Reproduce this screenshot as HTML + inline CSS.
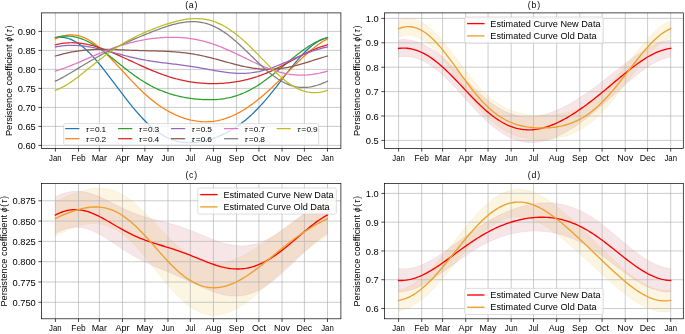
<!DOCTYPE html>
<html><head><meta charset="utf-8"><style>
html,body{margin:0;padding:0;background:#fff;}
body{width:685px;height:334px;overflow:hidden;}
svg{display:block;will-change:transform;}
text{font-family:"Liberation Sans", sans-serif;}
</style></head><body>
<svg width="685" height="334" viewBox="0 0 685 334" font-family='"Liberation Sans", sans-serif'>
<rect width="685" height="334" fill="#fff"/>
<defs>
<clipPath id="clip_a"><rect x="41.6" y="12.9" width="299.29999999999995" height="135.5"/></clipPath>
<clipPath id="clip_b"><rect x="384.5" y="12.9" width="298.79999999999995" height="135.5"/></clipPath>
<clipPath id="clip_c"><rect x="41.6" y="183.5" width="299.29999999999995" height="135.3"/></clipPath>
<clipPath id="clip_d"><rect x="384.5" y="183.5" width="298.79999999999995" height="135.3"/></clipPath>
</defs>
<path d="M55.40 12.90V148.40M78.51 12.90V148.40M99.38 12.90V148.40M122.49 12.90V148.40M144.86 12.90V148.40M167.97 12.90V148.40M190.33 12.90V148.40M213.44 12.90V148.40M236.55 12.90V148.40M258.92 12.90V148.40M282.03 12.90V148.40M304.39 12.90V148.40M327.50 12.90V148.40M41.60 145.40H340.90M41.60 126.40H340.90M41.60 107.40H340.90M41.60 88.40H340.90M41.60 69.40H340.90M41.60 50.40H340.90M41.60 31.40H340.90" stroke="#b0b0b0" stroke-width="0.65" fill="none"/>
<path d="M55.40 37.79L57.11 37.50L58.82 37.32L60.53 37.26L62.25 37.32L63.96 37.50L65.67 37.79L67.38 38.21L69.09 38.74L70.80 39.38L72.51 40.14L74.22 41.00L75.94 41.97L77.65 43.05L79.36 44.22L81.07 45.49L82.78 46.85L84.49 48.30L86.20 49.84L87.92 51.46L89.63 53.15L91.34 54.92L93.05 56.75L94.76 58.65L96.47 60.60L98.18 62.61L99.89 64.67L101.61 66.77L103.32 68.91L105.03 71.09L106.74 73.29L108.45 75.52L110.16 77.77L111.87 80.04L113.58 82.31L115.30 84.59L117.01 86.88L118.72 89.16L120.43 91.43L122.14 93.69L123.85 95.93L125.56 98.16L127.28 100.36L128.99 102.53L130.70 104.67L132.41 106.77L134.12 108.84L135.83 110.86L137.54 112.84L139.25 114.77L140.97 116.64L142.68 118.47L144.39 120.23L146.10 121.94L147.81 123.58L149.52 125.17L151.23 126.68L152.95 128.13L154.66 129.52L156.37 130.83L158.08 132.07L159.79 133.25L161.50 134.35L163.21 135.38L164.92 136.34L166.64 137.23L168.35 138.04L170.06 138.79L171.77 139.47L173.48 140.08L175.19 140.62L176.90 141.09L178.62 141.50L180.33 141.85L182.04 142.14L183.75 142.36L185.46 142.52L187.17 142.63L188.88 142.68L190.59 142.68L192.31 142.63L194.02 142.53L195.73 142.37L197.44 142.18L199.15 141.93L200.86 141.65L202.57 141.32L204.28 140.95L206.00 140.53L207.71 140.08L209.42 139.59L211.13 139.07L212.84 138.50L214.55 137.90L216.26 137.26L217.98 136.59L219.69 135.87L221.40 135.12L223.11 134.33L224.82 133.50L226.53 132.64L228.24 131.73L229.95 130.78L231.67 129.78L233.38 128.74L235.09 127.66L236.80 126.53L238.51 125.35L240.22 124.13L241.93 122.85L243.65 121.53L245.36 120.15L247.07 118.72L248.78 117.24L250.49 115.71L252.20 114.12L253.91 112.48L255.62 110.79L257.34 109.05L259.05 107.26L260.76 105.42L262.47 103.53L264.18 101.59L265.89 99.62L267.60 97.60L269.32 95.54L271.03 93.45L272.74 91.33L274.45 89.19L276.16 87.02L277.87 84.83L279.58 82.62L281.29 80.41L283.01 78.20L284.72 75.99L286.43 73.78L288.14 71.59L289.85 69.42L291.56 67.27L293.27 65.16L294.98 63.08L296.70 61.05L298.41 59.06L300.12 57.13L301.83 55.26L303.54 53.45L305.25 51.72L306.96 50.07L308.68 48.49L310.39 47.01L312.10 45.62L313.81 44.32L315.52 43.12L317.23 42.03L318.94 41.04L320.65 40.16L322.37 39.40L324.08 38.74L325.79 38.21L327.50 37.79" stroke="#1f77b4" stroke-width="1.25" fill="none" stroke-linejoin="round" stroke-linecap="square" clip-path="url(#clip_a)"/>
<path d="M55.40 38.94L57.11 38.14L58.82 37.42L60.53 36.78L62.25 36.24L63.96 35.78L65.67 35.41L67.38 35.14L69.09 34.97L70.80 34.89L72.51 34.90L74.22 35.02L75.94 35.24L77.65 35.55L79.36 35.97L81.07 36.48L82.78 37.08L84.49 37.78L86.20 38.58L87.92 39.46L89.63 40.44L91.34 41.50L93.05 42.64L94.76 43.86L96.47 45.16L98.18 46.53L99.89 47.96L101.61 49.46L103.32 51.01L105.03 52.62L106.74 54.28L108.45 55.98L110.16 57.72L111.87 59.49L113.58 61.29L115.30 63.12L117.01 64.96L118.72 66.82L120.43 68.68L122.14 70.55L123.85 72.43L125.56 74.29L127.28 76.15L128.99 77.99L130.70 79.82L132.41 81.63L134.12 83.41L135.83 85.17L137.54 86.90L139.25 88.60L140.97 90.26L142.68 91.89L144.39 93.48L146.10 95.03L147.81 96.54L149.52 98.01L151.23 99.43L152.95 100.81L154.66 102.15L156.37 103.44L158.08 104.69L159.79 105.89L161.50 107.05L163.21 108.16L164.92 109.23L166.64 110.25L168.35 111.23L170.06 112.17L171.77 113.05L173.48 113.90L175.19 114.70L176.90 115.46L178.62 116.18L180.33 116.85L182.04 117.48L183.75 118.07L185.46 118.62L187.17 119.12L188.88 119.58L190.59 120.00L192.31 120.37L194.02 120.70L195.73 120.99L197.44 121.23L199.15 121.43L200.86 121.58L202.57 121.69L204.28 121.75L206.00 121.76L207.71 121.73L209.42 121.65L211.13 121.53L212.84 121.35L214.55 121.13L216.26 120.86L217.98 120.54L219.69 120.17L221.40 119.75L223.11 119.28L224.82 118.77L226.53 118.20L228.24 117.59L229.95 116.92L231.67 116.21L233.38 115.45L235.09 114.65L236.80 113.79L238.51 112.90L240.22 111.95L241.93 110.96L243.65 109.93L245.36 108.85L247.07 107.74L248.78 106.58L250.49 105.38L252.20 104.14L253.91 102.87L255.62 101.56L257.34 100.22L259.05 98.84L260.76 97.43L262.47 95.99L264.18 94.52L265.89 93.02L267.60 91.49L269.32 89.94L271.03 88.37L272.74 86.78L274.45 85.16L276.16 83.53L277.87 81.88L279.58 80.22L281.29 78.55L283.01 76.86L284.72 75.17L286.43 73.47L288.14 71.77L289.85 70.07L291.56 68.38L293.27 66.68L294.98 65.00L296.70 63.32L298.41 61.66L300.12 60.02L301.83 58.39L303.54 56.79L305.25 55.22L306.96 53.68L308.68 52.17L310.39 50.70L312.10 49.27L313.81 47.89L315.52 46.56L317.23 45.28L318.94 44.06L320.65 42.90L322.37 41.80L324.08 40.77L325.79 39.82L327.50 38.94" stroke="#ff7f0e" stroke-width="1.25" fill="none" stroke-linejoin="round" stroke-linecap="square" clip-path="url(#clip_a)"/>
<path d="M55.40 37.51L57.11 37.08L58.82 36.72L60.53 36.44L62.25 36.22L63.96 36.08L65.67 36.01L67.38 36.02L69.09 36.09L70.80 36.25L72.51 36.47L74.22 36.77L75.94 37.13L77.65 37.57L79.36 38.08L81.07 38.65L82.78 39.29L84.49 40.00L86.20 40.77L87.92 41.59L89.63 42.48L91.34 43.41L93.05 44.41L94.76 45.45L96.47 46.53L98.18 47.66L99.89 48.83L101.61 50.04L103.32 51.27L105.03 52.54L106.74 53.83L108.45 55.15L110.16 56.49L111.87 57.83L113.58 59.20L115.30 60.56L117.01 61.94L118.72 63.31L120.43 64.68L122.14 66.05L123.85 67.41L125.56 68.76L127.28 70.09L128.99 71.40L130.70 72.69L132.41 73.97L134.12 75.21L135.83 76.43L137.54 77.63L139.25 78.79L140.97 79.92L142.68 81.02L144.39 82.08L146.10 83.11L147.81 84.11L149.52 85.06L151.23 85.99L152.95 86.87L154.66 87.72L156.37 88.54L158.08 89.32L159.79 90.06L161.50 90.77L163.21 91.45L164.92 92.09L166.64 92.70L168.35 93.28L170.06 93.83L171.77 94.35L173.48 94.84L175.19 95.30L176.90 95.74L178.62 96.15L180.33 96.54L182.04 96.90L183.75 97.24L185.46 97.56L187.17 97.85L188.88 98.13L190.59 98.38L192.31 98.61L194.02 98.82L195.73 99.01L197.44 99.18L199.15 99.33L200.86 99.46L202.57 99.56L204.28 99.64L206.00 99.70L207.71 99.73L209.42 99.74L211.13 99.73L212.84 99.68L214.55 99.61L216.26 99.51L217.98 99.38L219.69 99.22L221.40 99.02L223.11 98.79L224.82 98.53L226.53 98.22L228.24 97.89L229.95 97.51L231.67 97.09L233.38 96.63L235.09 96.13L236.80 95.59L238.51 95.00L240.22 94.37L241.93 93.70L243.65 92.99L245.36 92.23L247.07 91.42L248.78 90.57L250.49 89.68L252.20 88.75L253.91 87.77L255.62 86.75L257.34 85.70L259.05 84.60L260.76 83.46L262.47 82.30L264.18 81.09L265.89 79.86L267.60 78.59L269.32 77.30L271.03 75.98L272.74 74.63L274.45 73.27L276.16 71.89L277.87 70.50L279.58 69.09L281.29 67.67L283.01 66.25L284.72 64.82L286.43 63.40L288.14 61.97L289.85 60.56L291.56 59.15L293.27 57.76L294.98 56.38L296.70 55.03L298.41 53.69L300.12 52.39L301.83 51.11L303.54 49.87L305.25 48.66L306.96 47.49L308.68 46.37L310.39 45.28L312.10 44.25L313.81 43.27L315.52 42.34L317.23 41.46L318.94 40.65L320.65 39.89L322.37 39.20L324.08 38.57L325.79 38.00L327.50 37.51" stroke="#2ca02c" stroke-width="1.25" fill="none" stroke-linejoin="round" stroke-linecap="square" clip-path="url(#clip_a)"/>
<path d="M55.40 44.86L57.11 44.45L58.82 44.08L60.53 43.75L62.25 43.47L63.96 43.24L65.67 43.05L67.38 42.90L69.09 42.80L70.80 42.75L72.51 42.73L74.22 42.77L75.94 42.84L77.65 42.96L79.36 43.12L81.07 43.32L82.78 43.56L84.49 43.84L86.20 44.15L87.92 44.50L89.63 44.89L91.34 45.31L93.05 45.76L94.76 46.25L96.47 46.76L98.18 47.30L99.89 47.87L101.61 48.46L103.32 49.07L105.03 49.71L106.74 50.37L108.45 51.04L110.16 51.73L111.87 52.44L113.58 53.17L115.30 53.90L117.01 54.65L118.72 55.41L120.43 56.17L122.14 56.95L123.85 57.73L125.56 58.52L127.28 59.30L128.99 60.10L130.70 60.89L132.41 61.68L134.12 62.48L135.83 63.27L137.54 64.05L139.25 64.83L140.97 65.61L142.68 66.38L144.39 67.14L146.10 67.90L147.81 68.64L149.52 69.37L151.23 70.10L152.95 70.81L154.66 71.50L156.37 72.18L158.08 72.85L159.79 73.50L161.50 74.13L163.21 74.75L164.92 75.35L166.64 75.93L168.35 76.49L170.06 77.03L171.77 77.55L173.48 78.05L175.19 78.53L176.90 78.99L178.62 79.42L180.33 79.84L182.04 80.23L183.75 80.60L185.46 80.95L187.17 81.28L188.88 81.58L190.59 81.87L192.31 82.13L194.02 82.37L195.73 82.58L197.44 82.78L199.15 82.95L200.86 83.11L202.57 83.24L204.28 83.35L206.00 83.44L207.71 83.51L209.42 83.56L211.13 83.60L212.84 83.61L214.55 83.60L216.26 83.57L217.98 83.52L219.69 83.46L221.40 83.37L223.11 83.26L224.82 83.14L226.53 82.99L228.24 82.82L229.95 82.63L231.67 82.42L233.38 82.19L235.09 81.94L236.80 81.67L238.51 81.37L240.22 81.05L241.93 80.71L243.65 80.35L245.36 79.96L247.07 79.54L248.78 79.10L250.49 78.64L252.20 78.15L253.91 77.63L255.62 77.09L257.34 76.53L259.05 75.93L260.76 75.32L262.47 74.67L264.18 74.00L265.89 73.31L267.60 72.60L269.32 71.86L271.03 71.09L272.74 70.31L274.45 69.51L276.16 68.68L277.87 67.84L279.58 66.99L281.29 66.12L283.01 65.23L284.72 64.34L286.43 63.43L288.14 62.52L289.85 61.60L291.56 60.68L293.27 59.76L294.98 58.84L296.70 57.93L298.41 57.02L300.12 56.12L301.83 55.23L303.54 54.36L305.25 53.50L306.96 52.66L308.68 51.85L310.39 51.05L312.10 50.29L313.81 49.55L315.52 48.84L317.23 48.16L318.94 47.52L320.65 46.91L322.37 46.33L324.08 45.80L325.79 45.31L327.50 44.86" stroke="#d62728" stroke-width="1.25" fill="none" stroke-linejoin="round" stroke-linecap="square" clip-path="url(#clip_a)"/>
<path d="M55.40 46.97L57.11 46.66L58.82 46.37L60.53 46.13L62.25 45.91L63.96 45.73L65.67 45.59L67.38 45.48L69.09 45.40L70.80 45.36L72.51 45.35L74.22 45.38L75.94 45.43L77.65 45.52L79.36 45.64L81.07 45.79L82.78 45.96L84.49 46.17L86.20 46.40L87.92 46.65L89.63 46.93L91.34 47.24L93.05 47.56L94.76 47.91L96.47 48.27L98.18 48.65L99.89 49.04L101.61 49.45L103.32 49.87L105.03 50.30L106.74 50.74L108.45 51.19L110.16 51.64L111.87 52.10L113.58 52.56L115.30 53.02L117.01 53.49L118.72 53.95L120.43 54.40L122.14 54.86L123.85 55.30L125.56 55.74L127.28 56.18L128.99 56.60L130.70 57.02L132.41 57.42L134.12 57.82L135.83 58.20L137.54 58.57L139.25 58.93L140.97 59.28L142.68 59.61L144.39 59.93L146.10 60.24L147.81 60.54L149.52 60.83L151.23 61.10L152.95 61.37L154.66 61.62L156.37 61.87L158.08 62.10L159.79 62.33L161.50 62.56L163.21 62.77L164.92 62.99L166.64 63.20L168.35 63.40L170.06 63.61L171.77 63.82L173.48 64.02L175.19 64.23L176.90 64.44L178.62 64.66L180.33 64.88L182.04 65.11L183.75 65.34L185.46 65.57L187.17 65.82L188.88 66.07L190.59 66.33L192.31 66.60L194.02 66.87L195.73 67.15L197.44 67.44L199.15 67.74L200.86 68.04L202.57 68.34L204.28 68.65L206.00 68.96L207.71 69.28L209.42 69.59L211.13 69.91L212.84 70.22L214.55 70.53L216.26 70.83L217.98 71.12L219.69 71.41L221.40 71.68L223.11 71.94L224.82 72.19L226.53 72.42L228.24 72.62L229.95 72.81L231.67 72.98L233.38 73.12L235.09 73.24L236.80 73.33L238.51 73.39L240.22 73.42L241.93 73.42L243.65 73.38L245.36 73.31L247.07 73.21L248.78 73.07L250.49 72.90L252.20 72.69L253.91 72.44L255.62 72.16L257.34 71.84L259.05 71.49L260.76 71.10L262.47 70.68L264.18 70.22L265.89 69.74L267.60 69.22L269.32 68.67L271.03 68.09L272.74 67.49L274.45 66.86L276.16 66.21L277.87 65.54L279.58 64.85L281.29 64.14L283.01 63.42L284.72 62.69L286.43 61.95L288.14 61.20L289.85 60.45L291.56 59.69L293.27 58.93L294.98 58.18L296.70 57.43L298.41 56.68L300.12 55.95L301.83 55.23L303.54 54.52L305.25 53.82L306.96 53.15L308.68 52.49L310.39 51.85L312.10 51.24L313.81 50.65L315.52 50.09L317.23 49.55L318.94 49.05L320.65 48.57L322.37 48.12L324.08 47.71L325.79 47.32L327.50 46.97" stroke="#9467bd" stroke-width="1.25" fill="none" stroke-linejoin="round" stroke-linecap="square" clip-path="url(#clip_a)"/>
<path d="M55.40 56.00L57.11 55.51L58.82 55.04L60.53 54.58L62.25 54.14L63.96 53.71L65.67 53.31L67.38 52.92L69.09 52.55L70.80 52.20L72.51 51.88L74.22 51.57L75.94 51.28L77.65 51.02L79.36 50.78L81.07 50.56L82.78 50.35L84.49 50.17L86.20 50.02L87.92 49.88L89.63 49.76L91.34 49.65L93.05 49.57L94.76 49.50L96.47 49.45L98.18 49.41L99.89 49.39L101.61 49.38L103.32 49.39L105.03 49.40L106.74 49.42L108.45 49.46L110.16 49.50L111.87 49.54L113.58 49.60L115.30 49.65L117.01 49.72L118.72 49.78L120.43 49.85L122.14 49.91L123.85 49.98L125.56 50.05L127.28 50.12L128.99 50.18L130.70 50.25L132.41 50.31L134.12 50.37L135.83 50.43L137.54 50.48L139.25 50.53L140.97 50.58L142.68 50.63L144.39 50.68L146.10 50.72L147.81 50.77L149.52 50.81L151.23 50.85L152.95 50.90L154.66 50.94L156.37 50.99L158.08 51.04L159.79 51.09L161.50 51.15L163.21 51.21L164.92 51.28L166.64 51.36L168.35 51.45L170.06 51.54L171.77 51.64L173.48 51.76L175.19 51.89L176.90 52.02L178.62 52.17L180.33 52.34L182.04 52.52L183.75 52.71L185.46 52.92L187.17 53.14L188.88 53.38L190.59 53.64L192.31 53.91L194.02 54.19L195.73 54.50L197.44 54.82L199.15 55.15L200.86 55.50L202.57 55.86L204.28 56.24L206.00 56.63L207.71 57.04L209.42 57.46L211.13 57.88L212.84 58.32L214.55 58.77L216.26 59.22L217.98 59.69L219.69 60.15L221.40 60.62L223.11 61.10L224.82 61.57L226.53 62.04L228.24 62.51L229.95 62.98L231.67 63.44L233.38 63.90L235.09 64.35L236.80 64.78L238.51 65.21L240.22 65.62L241.93 66.02L243.65 66.40L245.36 66.76L247.07 67.11L248.78 67.43L250.49 67.73L252.20 68.01L253.91 68.27L255.62 68.49L257.34 68.70L259.05 68.87L260.76 69.02L262.47 69.14L264.18 69.22L265.89 69.28L267.60 69.31L269.32 69.31L271.03 69.27L272.74 69.21L274.45 69.11L276.16 68.98L277.87 68.83L279.58 68.64L281.29 68.42L283.01 68.18L284.72 67.90L286.43 67.60L288.14 67.28L289.85 66.93L291.56 66.55L293.27 66.16L294.98 65.74L296.70 65.30L298.41 64.84L300.12 64.37L301.83 63.88L303.54 63.38L305.25 62.87L306.96 62.35L308.68 61.82L310.39 61.29L312.10 60.75L313.81 60.20L315.52 59.66L317.23 59.12L318.94 58.58L320.65 58.05L322.37 57.52L324.08 57.00L325.79 56.49L327.50 56.00" stroke="#8c564b" stroke-width="1.25" fill="none" stroke-linejoin="round" stroke-linecap="square" clip-path="url(#clip_a)"/>
<path d="M55.40 71.07L57.11 70.55L58.82 70.01L60.53 69.44L62.25 68.86L63.96 68.25L65.67 67.62L67.38 66.97L69.09 66.31L70.80 65.63L72.51 64.94L74.22 64.23L75.94 63.52L77.65 62.80L79.36 62.07L81.07 61.33L82.78 60.59L84.49 59.85L86.20 59.10L87.92 58.36L89.63 57.61L91.34 56.87L93.05 56.13L94.76 55.40L96.47 54.67L98.18 53.95L99.89 53.24L101.61 52.54L103.32 51.85L105.03 51.17L106.74 50.50L108.45 49.85L110.16 49.20L111.87 48.58L113.58 47.96L115.30 47.37L117.01 46.78L118.72 46.22L120.43 45.67L122.14 45.13L123.85 44.61L125.56 44.11L127.28 43.63L128.99 43.17L130.70 42.72L132.41 42.29L134.12 41.87L135.83 41.48L137.54 41.10L139.25 40.74L140.97 40.39L142.68 40.07L144.39 39.76L146.10 39.47L147.81 39.19L149.52 38.94L151.23 38.70L152.95 38.48L154.66 38.27L156.37 38.09L158.08 37.92L159.79 37.77L161.50 37.64L163.21 37.53L164.92 37.43L166.64 37.36L168.35 37.31L170.06 37.27L171.77 37.26L173.48 37.26L175.19 37.29L176.90 37.34L178.62 37.41L180.33 37.51L182.04 37.63L183.75 37.77L185.46 37.93L187.17 38.12L188.88 38.33L190.59 38.57L192.31 38.83L194.02 39.12L195.73 39.44L197.44 39.78L199.15 40.14L200.86 40.53L202.57 40.95L204.28 41.40L206.00 41.86L207.71 42.36L209.42 42.88L211.13 43.42L212.84 43.99L214.55 44.59L216.26 45.20L217.98 45.84L219.69 46.50L221.40 47.18L223.11 47.88L224.82 48.60L226.53 49.33L228.24 50.08L229.95 50.85L231.67 51.63L233.38 52.42L235.09 53.22L236.80 54.03L238.51 54.85L240.22 55.67L241.93 56.50L243.65 57.33L245.36 58.15L247.07 58.98L248.78 59.81L250.49 60.62L252.20 61.44L253.91 62.24L255.62 63.03L257.34 63.81L259.05 64.58L260.76 65.33L262.47 66.06L264.18 66.78L265.89 67.47L267.60 68.15L269.32 68.79L271.03 69.42L272.74 70.01L274.45 70.58L276.16 71.12L277.87 71.63L279.58 72.11L281.29 72.55L283.01 72.97L284.72 73.35L286.43 73.69L288.14 74.00L289.85 74.27L291.56 74.51L293.27 74.70L294.98 74.87L296.70 74.99L298.41 75.08L300.12 75.13L301.83 75.14L303.54 75.11L305.25 75.05L306.96 74.95L308.68 74.81L310.39 74.63L312.10 74.43L313.81 74.18L315.52 73.90L317.23 73.59L318.94 73.25L320.65 72.87L322.37 72.47L324.08 72.03L325.79 71.56L327.50 71.07" stroke="#e377c2" stroke-width="1.25" fill="none" stroke-linejoin="round" stroke-linecap="square" clip-path="url(#clip_a)"/>
<path d="M55.40 81.16L57.11 80.34L58.82 79.48L60.53 78.59L62.25 77.67L63.96 76.73L65.67 75.76L67.38 74.78L69.09 73.78L70.80 72.77L72.51 71.75L74.22 70.72L75.94 69.68L77.65 68.64L79.36 67.60L81.07 66.56L82.78 65.53L84.49 64.49L86.20 63.47L87.92 62.45L89.63 61.43L91.34 60.43L93.05 59.44L94.76 58.46L96.47 57.49L98.18 56.53L99.89 55.59L101.61 54.66L103.32 53.74L105.03 52.84L106.74 51.94L108.45 51.07L110.16 50.20L111.87 49.35L113.58 48.51L115.30 47.68L117.01 46.86L118.72 46.05L120.43 45.25L122.14 44.47L123.85 43.69L125.56 42.92L127.28 42.15L128.99 41.40L130.70 40.65L132.41 39.91L134.12 39.17L135.83 38.44L137.54 37.72L139.25 37.00L140.97 36.28L142.68 35.58L144.39 34.87L146.10 34.18L147.81 33.49L149.52 32.80L151.23 32.12L152.95 31.45L154.66 30.79L156.37 30.14L158.08 29.50L159.79 28.87L161.50 28.26L163.21 27.66L164.92 27.08L166.64 26.51L168.35 25.97L170.06 25.45L171.77 24.95L173.48 24.47L175.19 24.03L176.90 23.62L178.62 23.23L180.33 22.89L182.04 22.58L183.75 22.31L185.46 22.09L187.17 21.90L188.88 21.77L190.59 21.68L192.31 21.65L194.02 21.67L195.73 21.74L197.44 21.87L199.15 22.06L200.86 22.32L202.57 22.63L204.28 23.01L206.00 23.45L207.71 23.95L209.42 24.52L211.13 25.16L212.84 25.87L214.55 26.64L216.26 27.48L217.98 28.38L219.69 29.34L221.40 30.37L223.11 31.46L224.82 32.62L226.53 33.83L228.24 35.09L229.95 36.41L231.67 37.78L233.38 39.19L235.09 40.65L236.80 42.15L238.51 43.69L240.22 45.26L241.93 46.86L243.65 48.48L245.36 50.13L247.07 51.79L248.78 53.46L250.49 55.13L252.20 56.81L253.91 58.49L255.62 60.15L257.34 61.81L259.05 63.44L260.76 65.05L262.47 66.64L264.18 68.19L265.89 69.71L267.60 71.18L269.32 72.61L271.03 74.00L272.74 75.33L274.45 76.60L276.16 77.81L277.87 78.96L279.58 80.05L281.29 81.07L283.01 82.01L284.72 82.89L286.43 83.69L288.14 84.41L289.85 85.06L291.56 85.63L293.27 86.13L294.98 86.54L296.70 86.88L298.41 87.14L300.12 87.32L301.83 87.43L303.54 87.46L305.25 87.42L306.96 87.30L308.68 87.12L310.39 86.87L312.10 86.55L313.81 86.17L315.52 85.73L317.23 85.23L318.94 84.67L320.65 84.06L322.37 83.40L324.08 82.70L325.79 81.95L327.50 81.16" stroke="#7f7f7f" stroke-width="1.25" fill="none" stroke-linejoin="round" stroke-linecap="square" clip-path="url(#clip_a)"/>
<path d="M55.40 90.31L57.11 89.65L58.82 88.92L60.53 88.13L62.25 87.27L63.96 86.35L65.67 85.37L67.38 84.33L69.09 83.25L70.80 82.11L72.51 80.94L74.22 79.73L75.94 78.48L77.65 77.20L79.36 75.90L81.07 74.57L82.78 73.22L84.49 71.86L86.20 70.49L87.92 69.11L89.63 67.73L91.34 66.35L93.05 64.96L94.76 63.59L96.47 62.22L98.18 60.87L99.89 59.53L101.61 58.20L103.32 56.89L105.03 55.61L106.74 54.34L108.45 53.10L110.16 51.88L111.87 50.68L113.58 49.51L115.30 48.37L117.01 47.25L118.72 46.16L120.43 45.10L122.14 44.06L123.85 43.05L125.56 42.06L127.28 41.10L128.99 40.16L130.70 39.25L132.41 38.35L134.12 37.48L135.83 36.63L137.54 35.80L139.25 34.99L140.97 34.20L142.68 33.42L144.39 32.66L146.10 31.92L147.81 31.19L149.52 30.48L151.23 29.78L152.95 29.09L154.66 28.42L156.37 27.77L158.08 27.12L159.79 26.49L161.50 25.88L163.21 25.28L164.92 24.70L166.64 24.13L168.35 23.59L170.06 23.06L171.77 22.55L173.48 22.07L175.19 21.60L176.90 21.17L178.62 20.76L180.33 20.38L182.04 20.03L183.75 19.71L185.46 19.42L187.17 19.18L188.88 18.97L190.59 18.80L192.31 18.68L194.02 18.59L195.73 18.56L197.44 18.58L199.15 18.64L200.86 18.76L202.57 18.93L204.28 19.15L206.00 19.43L207.71 19.77L209.42 20.17L211.13 20.63L212.84 21.15L214.55 21.73L216.26 22.37L217.98 23.08L219.69 23.84L221.40 24.67L223.11 25.56L224.82 26.51L226.53 27.52L228.24 28.59L229.95 29.72L231.67 30.90L233.38 32.14L235.09 33.43L236.80 34.78L238.51 36.17L240.22 37.61L241.93 39.09L243.65 40.62L245.36 42.18L247.07 43.78L248.78 45.41L250.49 47.07L252.20 48.75L253.91 50.46L255.62 52.18L257.34 53.92L259.05 55.67L260.76 57.42L262.47 59.18L264.18 60.93L265.89 62.67L267.60 64.41L269.32 66.12L271.03 67.82L272.74 69.49L274.45 71.14L276.16 72.75L277.87 74.32L279.58 75.86L281.29 77.35L283.01 78.78L284.72 80.17L286.43 81.50L288.14 82.77L289.85 83.97L291.56 85.11L293.27 86.17L294.98 87.17L296.70 88.09L298.41 88.93L300.12 89.69L301.83 90.37L303.54 90.96L305.25 91.48L306.96 91.90L308.68 92.24L310.39 92.49L312.10 92.65L313.81 92.73L315.52 92.72L317.23 92.62L318.94 92.44L320.65 92.18L322.37 91.83L324.08 91.40L325.79 90.89L327.50 90.31" stroke="#bcbd22" stroke-width="1.25" fill="none" stroke-linejoin="round" stroke-linecap="square" clip-path="url(#clip_a)"/>
<rect x="63.70" y="123.60" width="255.00" height="21.40" rx="1.6" ry="1.6" fill="#fff" fill-opacity="0.8" stroke="#cccccc" stroke-width="0.65"/>
<path d="M65.20 128.60h14.2" stroke="#1f77b4" stroke-width="1.25"/>
<text transform="scale(1.1500 1)" y="131.60" font-size="7.26" ><tspan x="74.61" font-style="italic">τ</tspan><tspan x="78.14">=</tspan><tspan x="82.63">0</tspan><tspan x="86.48">.</tspan><tspan x="88.31">1</tspan></text>
<path d="M65.20 138.70h14.2" stroke="#ff7f0e" stroke-width="1.25"/>
<text transform="scale(1.1500 1)" y="141.70" font-size="7.26" ><tspan x="74.61" font-style="italic">τ</tspan><tspan x="78.14">=</tspan><tspan x="82.63">0</tspan><tspan x="86.48">.</tspan><tspan x="88.31">2</tspan></text>
<path d="M118.10 128.60h14.2" stroke="#2ca02c" stroke-width="1.25"/>
<text transform="scale(1.1500 1)" y="131.60" font-size="7.26" ><tspan x="120.61" font-style="italic">τ</tspan><tspan x="124.14">=</tspan><tspan x="128.63">0</tspan><tspan x="132.48">.</tspan><tspan x="134.31">3</tspan></text>
<path d="M118.10 138.70h14.2" stroke="#d62728" stroke-width="1.25"/>
<text transform="scale(1.1500 1)" y="141.70" font-size="7.26" ><tspan x="120.61" font-style="italic">τ</tspan><tspan x="124.14">=</tspan><tspan x="128.63">0</tspan><tspan x="132.48">.</tspan><tspan x="134.31">4</tspan></text>
<path d="M171.00 128.60h14.2" stroke="#9467bd" stroke-width="1.25"/>
<text transform="scale(1.1500 1)" y="131.60" font-size="7.26" ><tspan x="166.61" font-style="italic">τ</tspan><tspan x="170.14">=</tspan><tspan x="174.63">0</tspan><tspan x="178.48">.</tspan><tspan x="180.31">5</tspan></text>
<path d="M171.00 138.70h14.2" stroke="#8c564b" stroke-width="1.25"/>
<text transform="scale(1.1500 1)" y="141.70" font-size="7.26" ><tspan x="166.61" font-style="italic">τ</tspan><tspan x="170.14">=</tspan><tspan x="174.63">0</tspan><tspan x="178.48">.</tspan><tspan x="180.31">6</tspan></text>
<path d="M224.00 128.60h14.2" stroke="#e377c2" stroke-width="1.25"/>
<text transform="scale(1.1500 1)" y="131.60" font-size="7.26" ><tspan x="212.70" font-style="italic">τ</tspan><tspan x="216.22">=</tspan><tspan x="220.71">0</tspan><tspan x="224.57">.</tspan><tspan x="226.40">7</tspan></text>
<path d="M224.00 138.70h14.2" stroke="#7f7f7f" stroke-width="1.25"/>
<text transform="scale(1.1500 1)" y="141.70" font-size="7.26" ><tspan x="212.70" font-style="italic">τ</tspan><tspan x="216.22">=</tspan><tspan x="220.71">0</tspan><tspan x="224.57">.</tspan><tspan x="226.40">8</tspan></text>
<path d="M276.60 128.60h14.2" stroke="#bcbd22" stroke-width="1.25"/>
<text transform="scale(1.1500 1)" y="131.60" font-size="7.26" ><tspan x="258.44" font-style="italic">τ</tspan><tspan x="261.96">=</tspan><tspan x="266.45">0</tspan><tspan x="270.30">.</tspan><tspan x="272.14">9</tspan></text>
<path d="M55.40 148.40v3.2M78.51 148.40v3.2M99.38 148.40v3.2M122.49 148.40v3.2M144.86 148.40v3.2M167.97 148.40v3.2M190.33 148.40v3.2M213.44 148.40v3.2M236.55 148.40v3.2M258.92 148.40v3.2M282.03 148.40v3.2M304.39 148.40v3.2M327.50 148.40v3.2M41.60 145.40h-3.2M41.60 126.40h-3.2M41.60 107.40h-3.2M41.60 88.40h-3.2M41.60 69.40h-3.2M41.60 50.40h-3.2M41.60 31.40h-3.2" stroke="#000" stroke-width="0.7" fill="none"/>
<rect x="41.60" y="12.90" width="299.30" height="135.50" fill="none" stroke="#000" stroke-width="0.7" stroke-linejoin="miter" stroke-linecap="square"/>
<text x="55.40" y="161.00" font-size="8.31" text-anchor="middle" textLength="12.56" lengthAdjust="spacingAndGlyphs" fill="#000" >Jan</text>
<text x="78.51" y="161.00" font-size="8.31" text-anchor="middle" textLength="14.43" lengthAdjust="spacingAndGlyphs" fill="#000" >Feb</text>
<text x="99.38" y="161.00" font-size="8.31" text-anchor="middle" textLength="15.38" lengthAdjust="spacingAndGlyphs" fill="#000" >Mar</text>
<text x="122.49" y="161.00" font-size="8.31" text-anchor="middle" textLength="14.10" lengthAdjust="spacingAndGlyphs" fill="#000" >Apr</text>
<text x="144.86" y="161.00" font-size="8.31" text-anchor="middle" textLength="16.85" lengthAdjust="spacingAndGlyphs" fill="#000" >May</text>
<text x="167.97" y="161.00" font-size="8.31" text-anchor="middle" textLength="12.73" lengthAdjust="spacingAndGlyphs" fill="#000" >Jun</text>
<text x="190.33" y="161.00" font-size="8.31" text-anchor="middle" textLength="9.83" lengthAdjust="spacingAndGlyphs" fill="#000" >Jul</text>
<text x="213.44" y="161.00" font-size="8.31" text-anchor="middle" textLength="15.91" lengthAdjust="spacingAndGlyphs" fill="#000" >Aug</text>
<text x="236.55" y="161.00" font-size="8.31" text-anchor="middle" textLength="15.36" lengthAdjust="spacingAndGlyphs" fill="#000" >Sep</text>
<text x="258.92" y="161.00" font-size="8.31" text-anchor="middle" textLength="14.09" lengthAdjust="spacingAndGlyphs" fill="#000" >Oct</text>
<text x="282.03" y="161.00" font-size="8.31" text-anchor="middle" textLength="15.91" lengthAdjust="spacingAndGlyphs" fill="#000" >Nov</text>
<text x="304.39" y="161.00" font-size="8.31" text-anchor="middle" textLength="15.77" lengthAdjust="spacingAndGlyphs" fill="#000" >Dec</text>
<text x="327.50" y="161.00" font-size="8.31" text-anchor="middle" textLength="12.56" lengthAdjust="spacingAndGlyphs" fill="#000" >Jan</text>
<text x="35.80" y="149.07" font-size="8.31" text-anchor="end" textLength="18.15" lengthAdjust="spacingAndGlyphs" fill="#000" >0.60</text>
<text x="35.80" y="130.07" font-size="8.31" text-anchor="end" textLength="18.15" lengthAdjust="spacingAndGlyphs" fill="#000" >0.65</text>
<text x="35.80" y="111.07" font-size="8.31" text-anchor="end" textLength="18.15" lengthAdjust="spacingAndGlyphs" fill="#000" >0.70</text>
<text x="35.80" y="92.07" font-size="8.31" text-anchor="end" textLength="18.15" lengthAdjust="spacingAndGlyphs" fill="#000" >0.75</text>
<text x="35.80" y="73.07" font-size="8.31" text-anchor="end" textLength="18.15" lengthAdjust="spacingAndGlyphs" fill="#000" >0.80</text>
<text x="35.80" y="54.07" font-size="8.31" text-anchor="end" textLength="18.15" lengthAdjust="spacingAndGlyphs" fill="#000" >0.85</text>
<text x="35.80" y="35.07" font-size="8.31" text-anchor="end" textLength="18.15" lengthAdjust="spacingAndGlyphs" fill="#000" >0.90</text>
<text y="7.50" font-size="8.70" ><tspan x="185.19">(</tspan><tspan x="188.83">a</tspan><tspan x="194.41">)</tspan></text>
<g transform="translate(12.30 80.65) rotate(-90)">
<text x="-55.46" y="0" font-size="8.31" textLength="91.69" lengthAdjust="spacingAndGlyphs">Persistence coefficient</text>
<text y="0.00" font-size="8.31" ><tspan x="39.19" font-style="italic">ϕ</tspan><tspan x="44.40">(</tspan><tspan x="48.27" font-style="italic">τ</tspan><tspan x="52.49">)</tspan></text>
</g>
<path d="M398.60 37.16L400.31 36.53L402.02 36.02L403.73 35.63L405.45 35.36L407.16 35.22L408.87 35.21L410.58 35.33L412.29 35.57L414.00 35.94L415.71 36.44L417.42 37.07L419.14 37.82L420.85 38.69L422.56 39.68L424.27 40.80L425.98 42.02L427.69 43.36L429.40 44.81L431.12 46.36L432.83 48.01L434.54 49.75L436.25 51.59L437.96 53.50L439.67 55.50L441.38 57.56L443.09 59.70L444.81 61.89L446.52 64.13L448.23 66.42L449.94 68.76L451.65 71.12L453.36 73.51L455.07 75.92L456.78 78.34L458.50 80.77L460.21 83.20L461.92 85.62L463.63 88.02L465.34 90.41L467.05 92.77L468.76 95.11L470.48 97.40L472.19 99.66L473.90 101.87L475.61 104.02L477.32 106.13L479.03 108.18L480.74 110.16L482.45 112.08L484.17 113.94L485.88 115.73L487.59 117.45L489.30 119.09L491.01 120.67L492.72 122.17L494.43 123.59L496.15 124.95L497.86 126.23L499.57 127.44L501.28 128.58L502.99 129.65L504.70 130.65L506.41 131.58L508.12 132.45L509.84 133.26L511.55 134.01L513.26 134.69L514.97 135.32L516.68 135.90L518.39 136.43L520.10 136.90L521.82 137.33L523.53 137.72L525.24 138.06L526.95 138.36L528.66 138.62L530.37 138.85L532.08 139.04L533.79 139.19L535.51 139.31L537.22 139.40L538.93 139.46L540.64 139.49L542.35 139.48L544.06 139.45L545.77 139.38L547.48 139.29L549.20 139.16L550.91 139.00L552.62 138.80L554.33 138.57L556.04 138.31L557.75 138.00L559.46 137.66L561.18 137.28L562.89 136.86L564.60 136.39L566.31 135.88L568.02 135.32L569.73 134.71L571.44 134.05L573.15 133.34L574.87 132.57L576.58 131.75L578.29 130.87L580.00 129.93L581.71 128.93L583.42 127.87L585.13 126.75L586.85 125.57L588.56 124.32L590.27 123.01L591.98 121.64L593.69 120.20L595.40 118.70L597.11 117.14L598.82 115.51L600.54 113.83L602.25 112.09L603.96 110.29L605.67 108.44L607.38 106.54L609.09 104.58L610.80 102.58L612.52 100.53L614.23 98.45L615.94 96.32L617.65 94.17L619.36 91.98L621.07 89.77L622.78 87.53L624.49 85.28L626.21 83.02L627.92 80.75L629.63 78.48L631.34 76.21L633.05 73.95L634.76 71.70L636.47 69.48L638.18 67.27L639.90 65.10L641.61 62.96L643.32 60.86L645.03 58.81L646.74 56.82L648.45 54.88L650.16 53.00L651.88 51.19L653.59 49.45L655.30 47.80L657.01 46.22L658.72 44.74L660.43 43.34L662.14 42.05L663.85 40.85L665.57 39.76L667.28 38.78L668.99 37.92L670.70 37.16L670.70 20.66L668.99 21.41L667.28 22.27L665.57 23.24L663.85 24.31L662.14 25.47L660.43 26.74L658.72 28.09L657.01 29.54L655.30 31.06L653.59 32.66L651.88 34.34L650.16 36.08L648.45 37.89L646.74 39.76L645.03 41.67L643.32 43.64L641.61 45.65L639.90 47.69L638.18 49.76L636.47 51.86L634.76 53.98L633.05 56.12L631.34 58.26L629.63 60.41L627.92 62.56L626.21 64.71L624.49 66.84L622.78 68.96L621.07 71.06L619.36 73.14L617.65 75.19L615.94 77.20L614.23 79.18L612.52 81.13L610.80 83.03L609.09 84.88L607.38 86.69L605.67 88.45L603.96 90.15L602.25 91.80L600.54 93.40L598.82 94.93L597.11 96.41L595.40 97.82L593.69 99.18L591.98 100.47L590.27 101.70L588.56 102.87L586.85 103.98L585.13 105.02L583.42 106.01L581.71 106.94L580.00 107.81L578.29 108.62L576.58 109.38L574.87 110.08L573.15 110.73L571.44 111.33L569.73 111.88L568.02 112.38L566.31 112.84L564.60 113.25L562.89 113.63L561.18 113.96L559.46 114.26L557.75 114.53L556.04 114.75L554.33 114.95L552.62 115.12L550.91 115.26L549.20 115.37L547.48 115.45L545.77 115.51L544.06 115.54L542.35 115.54L540.64 115.52L538.93 115.48L537.22 115.41L535.51 115.31L533.79 115.19L532.08 115.04L530.37 114.87L528.66 114.66L526.95 114.42L525.24 114.15L523.53 113.84L521.82 113.50L520.10 113.11L518.39 112.69L516.68 112.22L514.97 111.70L513.26 111.14L511.55 110.53L509.84 109.86L508.12 109.13L506.41 108.35L504.70 107.51L502.99 106.61L501.28 105.64L499.57 104.61L497.86 103.50L496.15 102.34L494.43 101.10L492.72 99.79L491.01 98.41L489.30 96.97L487.59 95.45L485.88 93.87L484.17 92.21L482.45 90.49L480.74 88.71L479.03 86.87L477.32 84.96L475.61 83.00L473.90 80.99L472.19 78.93L470.48 76.82L468.76 74.67L467.05 72.49L465.34 70.27L463.63 68.03L461.92 65.77L460.21 63.50L458.50 61.22L456.78 58.94L455.07 56.66L453.36 54.39L451.65 52.14L449.94 49.91L448.23 47.72L446.52 45.56L444.81 43.45L443.09 41.38L441.38 39.38L439.67 37.43L437.96 35.56L436.25 33.76L434.54 32.03L432.83 30.40L431.12 28.85L429.40 27.40L427.69 26.05L425.98 24.80L424.27 23.66L422.56 22.63L420.85 21.71L419.14 20.90L417.42 20.22L415.71 19.65L414.00 19.21L412.29 18.89L410.58 18.69L408.87 18.61L407.16 18.65L405.45 18.82L403.73 19.10L402.02 19.51L400.31 20.03L398.60 20.66Z" fill="#e1b928" fill-opacity="0.14" stroke="#e1b928" stroke-opacity="0.14" stroke-width="0.65" clip-path="url(#clip_b)"/>
<path d="M398.60 57.01L400.31 56.76L402.02 56.58L403.73 56.49L405.45 56.47L407.16 56.53L408.87 56.67L410.58 56.89L412.29 57.19L414.00 57.57L415.71 58.03L417.42 58.57L419.14 59.19L420.85 59.89L422.56 60.67L424.27 61.53L425.98 62.45L427.69 63.46L429.40 64.53L431.12 65.68L432.83 66.89L434.54 68.16L436.25 69.50L437.96 70.90L439.67 72.36L441.38 73.87L443.09 75.44L444.81 77.05L446.52 78.70L448.23 80.40L449.94 82.13L451.65 83.90L453.36 85.69L455.07 87.52L456.78 89.36L458.50 91.22L460.21 93.10L461.92 94.99L463.63 96.88L465.34 98.78L467.05 100.67L468.76 102.56L470.48 104.43L472.19 106.30L473.90 108.14L475.61 109.97L477.32 111.77L479.03 113.54L480.74 115.29L482.45 116.99L484.17 118.66L485.88 120.29L487.59 121.88L489.30 123.42L491.01 124.91L492.72 126.35L494.43 127.73L496.15 129.07L497.86 130.34L499.57 131.56L501.28 132.71L502.99 133.81L504.70 134.84L506.41 135.81L508.12 136.72L509.84 137.56L511.55 138.33L513.26 139.04L514.97 139.69L516.68 140.27L518.39 140.78L520.10 141.23L521.82 141.61L523.53 141.93L525.24 142.19L526.95 142.38L528.66 142.51L530.37 142.58L532.08 142.58L533.79 142.53L535.51 142.42L537.22 142.26L538.93 142.03L540.64 141.75L542.35 141.42L544.06 141.04L545.77 140.60L547.48 140.12L549.20 139.58L550.91 139.00L552.62 138.38L554.33 137.70L556.04 136.99L557.75 136.23L559.46 135.43L561.18 134.59L562.89 133.71L564.60 132.80L566.31 131.85L568.02 130.86L569.73 129.83L571.44 128.78L573.15 127.69L574.87 126.57L576.58 125.42L578.29 124.24L580.00 123.03L581.71 121.79L583.42 120.53L585.13 119.24L586.85 117.93L588.56 116.59L590.27 115.23L591.98 113.85L593.69 112.45L595.40 111.03L597.11 109.60L598.82 108.14L600.54 106.67L602.25 105.19L603.96 103.69L605.67 102.18L607.38 100.66L609.09 99.14L610.80 97.61L612.52 96.07L614.23 94.53L615.94 92.99L617.65 91.45L619.36 89.91L621.07 88.38L622.78 86.85L624.49 85.33L626.21 83.83L627.92 82.34L629.63 80.86L631.34 79.41L633.05 77.97L634.76 76.56L636.47 75.18L638.18 73.82L639.90 72.50L641.61 71.21L643.32 69.95L645.03 68.74L646.74 67.57L648.45 66.44L650.16 65.37L651.88 64.34L653.59 63.36L655.30 62.44L657.01 61.58L658.72 60.77L660.43 60.03L662.14 59.36L663.85 58.75L665.57 58.20L667.28 57.73L668.99 57.33L670.70 57.01L670.70 39.89L668.99 40.14L667.28 40.44L665.57 40.82L663.85 41.26L662.14 41.75L660.43 42.31L658.72 42.93L657.01 43.61L655.30 44.34L653.59 45.12L651.88 45.95L650.16 46.83L648.45 47.75L646.74 48.72L645.03 49.72L643.32 50.77L641.61 51.85L639.90 52.97L638.18 54.11L636.47 55.29L634.76 56.49L633.05 57.72L631.34 58.96L629.63 60.23L627.92 61.52L626.21 62.82L624.49 64.13L622.78 65.45L621.07 66.78L619.36 68.12L617.65 69.47L615.94 70.82L614.23 72.17L612.52 73.52L610.80 74.87L609.09 76.21L607.38 77.55L605.67 78.89L603.96 80.22L602.25 81.54L600.54 82.85L598.82 84.15L597.11 85.44L595.40 86.72L593.69 87.98L591.98 89.23L590.27 90.46L588.56 91.68L586.85 92.88L585.13 94.06L583.42 95.22L581.71 96.36L580.00 97.48L578.29 98.58L576.58 99.66L574.87 100.72L573.15 101.75L571.44 102.76L569.73 103.74L568.02 104.69L566.31 105.62L564.60 106.52L562.89 107.39L561.18 108.23L559.46 109.04L557.75 109.82L556.04 110.56L554.33 111.27L552.62 111.94L550.91 112.57L549.20 113.17L547.48 113.73L545.77 114.24L544.06 114.71L542.35 115.14L540.64 115.53L538.93 115.86L537.22 116.15L535.51 116.40L533.79 116.59L532.08 116.73L530.37 116.81L528.66 116.85L526.95 116.82L525.24 116.75L523.53 116.61L521.82 116.42L520.10 116.17L518.39 115.86L516.68 115.48L514.97 115.05L513.26 114.56L511.55 114.01L509.84 113.39L508.12 112.72L506.41 111.98L504.70 111.18L502.99 110.33L501.28 109.41L499.57 108.44L497.86 107.40L496.15 106.32L494.43 105.17L492.72 103.97L491.01 102.73L489.30 101.43L487.59 100.08L485.88 98.69L484.17 97.25L482.45 95.78L480.74 94.26L479.03 92.71L477.32 91.13L475.61 89.52L473.90 87.88L472.19 86.22L470.48 84.54L468.76 82.84L467.05 81.13L465.34 79.41L463.63 77.69L461.92 75.96L460.21 74.24L458.50 72.52L456.78 70.81L455.07 69.12L453.36 67.44L451.65 65.78L449.94 64.15L448.23 62.55L446.52 60.97L444.81 59.44L443.09 57.94L441.38 56.48L439.67 55.07L437.96 53.70L436.25 52.39L434.54 51.12L432.83 49.92L431.12 48.77L429.40 47.68L427.69 46.66L425.98 45.70L424.27 44.80L422.56 43.98L420.85 43.22L419.14 42.53L417.42 41.91L415.71 41.37L414.00 40.89L412.29 40.49L410.58 40.17L408.87 39.91L407.16 39.73L405.45 39.62L403.73 39.58L402.02 39.62L400.31 39.72L398.60 39.89Z" fill="#c33e4b" fill-opacity="0.13" stroke="#c33e4b" stroke-opacity="0.13" stroke-width="0.65" clip-path="url(#clip_b)"/>
<path d="M398.60 12.90V148.40M421.71 12.90V148.40M442.58 12.90V148.40M465.69 12.90V148.40M488.06 12.90V148.40M511.17 12.90V148.40M533.53 12.90V148.40M556.64 12.90V148.40M579.75 12.90V148.40M602.12 12.90V148.40M625.23 12.90V148.40M647.59 12.90V148.40M670.70 12.90V148.40M384.50 140.40H683.30M384.50 116.00H683.30M384.50 91.60H683.30M384.50 67.20H683.30M384.50 42.80H683.30M384.50 18.40H683.30" stroke="#b0b0b0" stroke-width="0.65" fill="none"/>
<path d="M398.60 48.39L400.31 48.22L402.02 48.12L403.73 48.10L405.45 48.15L407.16 48.27L408.87 48.48L410.58 48.75L412.29 49.11L414.00 49.54L415.71 50.04L417.42 50.62L419.14 51.28L420.85 52.01L422.56 52.81L424.27 53.69L425.98 54.63L427.69 55.65L429.40 56.73L431.12 57.88L432.83 59.08L434.54 60.36L436.25 61.68L437.96 63.07L439.67 64.50L441.38 65.99L443.09 67.52L444.81 69.10L446.52 70.72L448.23 72.37L449.94 74.06L451.65 75.77L453.36 77.51L455.07 79.27L456.78 81.06L458.50 82.85L460.21 84.66L461.92 86.47L463.63 88.28L465.34 90.09L467.05 91.90L468.76 93.70L470.48 95.49L472.19 97.25L473.90 99.00L475.61 100.73L477.32 102.43L479.03 104.10L480.74 105.73L482.45 107.33L484.17 108.89L485.88 110.41L487.59 111.88L489.30 113.30L491.01 114.68L492.72 116.00L494.43 117.27L496.15 118.48L497.86 119.64L499.57 120.74L501.28 121.78L502.99 122.75L504.70 123.67L506.41 124.52L508.12 125.31L509.84 126.03L511.55 126.69L513.26 127.29L514.97 127.82L516.68 128.29L518.39 128.70L520.10 129.04L521.82 129.32L523.53 129.54L525.24 129.69L526.95 129.79L528.66 129.82L530.37 129.80L532.08 129.72L533.79 129.59L535.51 129.40L537.22 129.15L538.93 128.85L540.64 128.51L542.35 128.11L544.06 127.66L545.77 127.17L547.48 126.63L549.20 126.04L550.91 125.42L552.62 124.75L554.33 124.04L556.04 123.29L557.75 122.50L559.46 121.68L561.18 120.82L562.89 119.93L564.60 119.00L566.31 118.05L568.02 117.06L569.73 116.04L571.44 114.99L573.15 113.92L574.87 112.81L576.58 111.69L578.29 110.53L580.00 109.36L581.71 108.16L583.42 106.94L585.13 105.69L586.85 104.43L588.56 103.15L590.27 101.85L591.98 100.53L593.69 99.19L595.40 97.84L597.11 96.48L598.82 95.10L600.54 93.71L602.25 92.31L603.96 90.90L605.67 89.48L607.38 88.06L609.09 86.63L610.80 85.20L612.52 83.76L614.23 82.32L615.94 80.89L617.65 79.46L619.36 78.03L621.07 76.61L622.78 75.19L624.49 73.79L626.21 72.40L627.92 71.03L629.63 69.67L631.34 68.33L633.05 67.02L634.76 65.72L636.47 64.46L638.18 63.22L639.90 62.01L641.61 60.84L643.32 59.71L645.03 58.61L646.74 57.55L648.45 56.54L650.16 55.57L651.88 54.66L653.59 53.79L655.30 52.98L657.01 52.22L658.72 51.52L660.43 50.88L662.14 50.30L663.85 49.78L665.57 49.33L667.28 48.95L668.99 48.64L670.70 48.39" stroke="#ff0000" stroke-width="1.35" fill="none" stroke-linejoin="round" stroke-linecap="square" clip-path="url(#clip_b)"/>
<path d="M398.60 28.66L400.31 28.03L402.02 27.51L403.73 27.12L405.45 26.84L407.16 26.70L408.87 26.67L410.58 26.77L412.29 27.00L414.00 27.35L415.71 27.83L417.42 28.43L419.14 29.15L420.85 30.00L422.56 30.96L424.27 32.04L425.98 33.23L427.69 34.54L429.40 35.95L431.12 37.46L432.83 39.06L434.54 40.76L436.25 42.55L437.96 44.42L439.67 46.37L441.38 48.39L443.09 50.47L444.81 52.61L446.52 54.80L448.23 57.04L449.94 59.32L451.65 61.63L453.36 63.96L455.07 66.31L456.78 68.68L458.50 71.05L460.21 73.42L461.92 75.78L463.63 78.13L465.34 80.46L467.05 82.76L468.76 85.03L470.48 87.27L472.19 89.46L473.90 91.61L475.61 93.72L477.32 95.76L479.03 97.75L480.74 99.68L482.45 101.55L484.17 103.35L485.88 105.08L487.59 106.75L489.30 108.34L491.01 109.87L492.72 111.32L494.43 112.70L496.15 114.00L497.86 115.24L499.57 116.41L501.28 117.50L502.99 118.53L504.70 119.49L506.41 120.39L508.12 121.23L509.84 122.00L511.55 122.71L513.26 123.37L514.97 123.98L516.68 124.53L518.39 125.03L520.10 125.49L521.82 125.90L523.53 126.27L525.24 126.60L526.95 126.88L528.66 127.14L530.37 127.36L532.08 127.54L533.79 127.69L535.51 127.81L537.22 127.91L538.93 127.97L540.64 128.00L542.35 128.01L544.06 127.98L545.77 127.93L547.48 127.85L549.20 127.74L550.91 127.60L552.62 127.43L554.33 127.22L556.04 126.99L557.75 126.71L559.46 126.40L561.18 126.05L562.89 125.67L564.60 125.24L566.31 124.76L568.02 124.24L569.73 123.68L571.44 123.06L573.15 122.39L574.87 121.67L576.58 120.90L578.29 120.07L580.00 119.18L581.71 118.24L583.42 117.23L585.13 116.16L586.85 115.03L588.56 113.84L590.27 112.59L591.98 111.27L593.69 109.89L595.40 108.45L597.11 106.95L598.82 105.38L600.54 103.76L602.25 102.08L603.96 100.34L605.67 98.54L607.38 96.70L609.09 94.80L610.80 92.86L612.52 90.87L614.23 88.84L615.94 86.77L617.65 84.67L619.36 82.54L621.07 80.38L622.78 78.20L624.49 76.01L626.21 73.79L627.92 71.58L629.63 69.35L631.34 67.13L633.05 64.92L634.76 62.72L636.47 60.53L638.18 58.37L639.90 56.24L641.61 54.14L643.32 52.07L645.03 50.06L646.74 48.09L648.45 46.18L650.16 44.33L651.88 42.55L653.59 40.84L655.30 39.20L657.01 37.65L658.72 36.18L660.43 34.80L662.14 33.52L663.85 32.33L665.57 31.25L667.28 30.28L668.99 29.42L670.70 28.66" stroke="#eda02a" stroke-width="1.35" fill="none" stroke-linejoin="round" stroke-linecap="square" clip-path="url(#clip_b)"/>
<rect x="464.70" y="17.00" width="138.50" height="26.10" rx="1.6" ry="1.6" fill="#fff" fill-opacity="0.8" stroke="#cccccc" stroke-width="0.65"/>
<path d="M467.10 23.60h17.4" stroke="#ff0000" stroke-width="1.35"/>
<text x="490.30" y="26.57" font-size="8.31" text-anchor="start" textLength="110.22" lengthAdjust="spacingAndGlyphs" fill="#000" >Estimated Curve New Data</text>
<path d="M467.10 35.90h17.4" stroke="#eda02a" stroke-width="1.35"/>
<text x="490.30" y="38.87" font-size="8.31" text-anchor="start" textLength="106.30" lengthAdjust="spacingAndGlyphs" fill="#000" >Estimated Curve Old Data</text>
<path d="M398.60 148.40v3.2M421.71 148.40v3.2M442.58 148.40v3.2M465.69 148.40v3.2M488.06 148.40v3.2M511.17 148.40v3.2M533.53 148.40v3.2M556.64 148.40v3.2M579.75 148.40v3.2M602.12 148.40v3.2M625.23 148.40v3.2M647.59 148.40v3.2M670.70 148.40v3.2M384.50 140.40h-3.2M384.50 116.00h-3.2M384.50 91.60h-3.2M384.50 67.20h-3.2M384.50 42.80h-3.2M384.50 18.40h-3.2" stroke="#000" stroke-width="0.7" fill="none"/>
<rect x="384.50" y="12.90" width="298.80" height="135.50" fill="none" stroke="#000" stroke-width="0.7" stroke-linejoin="miter" stroke-linecap="square"/>
<text x="398.60" y="161.00" font-size="8.31" text-anchor="middle" textLength="12.56" lengthAdjust="spacingAndGlyphs" fill="#000" >Jan</text>
<text x="421.71" y="161.00" font-size="8.31" text-anchor="middle" textLength="14.43" lengthAdjust="spacingAndGlyphs" fill="#000" >Feb</text>
<text x="442.58" y="161.00" font-size="8.31" text-anchor="middle" textLength="15.38" lengthAdjust="spacingAndGlyphs" fill="#000" >Mar</text>
<text x="465.69" y="161.00" font-size="8.31" text-anchor="middle" textLength="14.10" lengthAdjust="spacingAndGlyphs" fill="#000" >Apr</text>
<text x="488.06" y="161.00" font-size="8.31" text-anchor="middle" textLength="16.85" lengthAdjust="spacingAndGlyphs" fill="#000" >May</text>
<text x="511.17" y="161.00" font-size="8.31" text-anchor="middle" textLength="12.73" lengthAdjust="spacingAndGlyphs" fill="#000" >Jun</text>
<text x="533.53" y="161.00" font-size="8.31" text-anchor="middle" textLength="9.83" lengthAdjust="spacingAndGlyphs" fill="#000" >Jul</text>
<text x="556.64" y="161.00" font-size="8.31" text-anchor="middle" textLength="15.91" lengthAdjust="spacingAndGlyphs" fill="#000" >Aug</text>
<text x="579.75" y="161.00" font-size="8.31" text-anchor="middle" textLength="15.36" lengthAdjust="spacingAndGlyphs" fill="#000" >Sep</text>
<text x="602.12" y="161.00" font-size="8.31" text-anchor="middle" textLength="14.09" lengthAdjust="spacingAndGlyphs" fill="#000" >Oct</text>
<text x="625.23" y="161.00" font-size="8.31" text-anchor="middle" textLength="15.91" lengthAdjust="spacingAndGlyphs" fill="#000" >Nov</text>
<text x="647.59" y="161.00" font-size="8.31" text-anchor="middle" textLength="15.77" lengthAdjust="spacingAndGlyphs" fill="#000" >Dec</text>
<text x="670.70" y="161.00" font-size="8.31" text-anchor="middle" textLength="12.56" lengthAdjust="spacingAndGlyphs" fill="#000" >Jan</text>
<text x="378.70" y="144.07" font-size="8.31" text-anchor="end" textLength="12.96" lengthAdjust="spacingAndGlyphs" fill="#000" >0.5</text>
<text x="378.70" y="119.67" font-size="8.31" text-anchor="end" textLength="12.96" lengthAdjust="spacingAndGlyphs" fill="#000" >0.6</text>
<text x="378.70" y="95.27" font-size="8.31" text-anchor="end" textLength="12.96" lengthAdjust="spacingAndGlyphs" fill="#000" >0.7</text>
<text x="378.70" y="70.87" font-size="8.31" text-anchor="end" textLength="12.96" lengthAdjust="spacingAndGlyphs" fill="#000" >0.8</text>
<text x="378.70" y="46.47" font-size="8.31" text-anchor="end" textLength="12.96" lengthAdjust="spacingAndGlyphs" fill="#000" >0.9</text>
<text x="378.70" y="22.07" font-size="8.31" text-anchor="end" textLength="12.96" lengthAdjust="spacingAndGlyphs" fill="#000" >1.0</text>
<text y="7.50" font-size="8.70" ><tspan x="527.74">(</tspan><tspan x="531.48">b</tspan><tspan x="537.17">)</tspan></text>
<g transform="translate(360.20 80.65) rotate(-90)">
<text x="-55.46" y="0" font-size="8.31" textLength="91.69" lengthAdjust="spacingAndGlyphs">Persistence coefficient</text>
<text y="0.00" font-size="8.31" ><tspan x="39.19" font-style="italic">ϕ</tspan><tspan x="44.40">(</tspan><tspan x="48.27" font-style="italic">τ</tspan><tspan x="52.49">)</tspan></text>
</g>
<path d="M55.40 236.13L57.11 235.18L58.82 234.26L60.53 233.37L62.25 232.51L63.96 231.69L65.67 230.89L67.38 230.12L69.09 229.39L70.80 228.70L72.51 228.04L74.22 227.42L75.94 226.84L77.65 226.30L79.36 225.80L81.07 225.35L82.78 224.95L84.49 224.60L86.20 224.30L87.92 224.05L89.63 223.86L91.34 223.74L93.05 223.67L94.76 223.67L96.47 223.74L98.18 223.87L99.89 224.08L101.61 224.36L103.32 224.71L105.03 225.15L106.74 225.66L108.45 226.25L110.16 226.92L111.87 227.67L113.58 228.51L115.30 229.43L117.01 230.43L118.72 231.51L120.43 232.67L122.14 233.92L123.85 235.24L125.56 236.64L127.28 238.11L128.99 239.66L130.70 241.27L132.41 242.96L134.12 244.70L135.83 246.51L137.54 248.37L139.25 250.28L140.97 252.24L142.68 254.25L144.39 256.29L146.10 258.36L147.81 260.46L149.52 262.59L151.23 264.73L152.95 266.88L154.66 269.04L156.37 271.20L158.08 273.36L159.79 275.51L161.50 277.64L163.21 279.75L164.92 281.83L166.64 283.89L168.35 285.90L170.06 287.88L171.77 289.82L173.48 291.70L175.19 293.53L176.90 295.30L178.62 297.02L180.33 298.67L182.04 300.25L183.75 301.76L185.46 303.20L187.17 304.57L188.88 305.86L190.59 307.07L192.31 308.20L194.02 309.24L195.73 310.21L197.44 311.09L199.15 311.88L200.86 312.59L202.57 313.21L204.28 313.75L206.00 314.20L207.71 314.57L209.42 314.86L211.13 315.05L212.84 315.17L214.55 315.20L216.26 315.15L217.98 315.02L219.69 314.81L221.40 314.52L223.11 314.16L224.82 313.72L226.53 313.21L228.24 312.63L229.95 311.97L231.67 311.25L233.38 310.46L235.09 309.61L236.80 308.70L238.51 307.73L240.22 306.70L241.93 305.61L243.65 304.48L245.36 303.29L247.07 302.06L248.78 300.78L250.49 299.46L252.20 298.10L253.91 296.70L255.62 295.27L257.34 293.81L259.05 292.32L260.76 290.81L262.47 289.27L264.18 287.71L265.89 286.14L267.60 284.55L269.32 282.95L271.03 281.35L272.74 279.73L274.45 278.12L276.16 276.50L277.87 274.89L279.58 273.28L281.29 271.68L283.01 270.08L284.72 268.50L286.43 266.93L288.14 265.38L289.85 263.84L291.56 262.32L293.27 260.82L294.98 259.34L296.70 257.89L298.41 256.46L300.12 255.05L301.83 253.66L303.54 252.30L305.25 250.97L306.96 249.67L308.68 248.39L310.39 247.13L312.10 245.91L313.81 244.71L315.52 243.54L317.23 242.40L318.94 241.29L320.65 240.20L322.37 239.14L324.08 238.11L325.79 237.10L327.50 236.13L327.50 201.58L325.79 202.42L324.08 203.27L322.37 204.15L320.65 205.03L318.94 205.94L317.23 206.85L315.52 207.79L313.81 208.74L312.10 209.71L310.39 210.69L308.68 211.69L306.96 212.71L305.25 213.74L303.54 214.79L301.83 215.86L300.12 216.95L298.41 218.06L296.70 219.18L294.98 220.32L293.27 221.47L291.56 222.64L289.85 223.82L288.14 225.02L286.43 226.23L284.72 227.45L283.01 228.69L281.29 229.93L279.58 231.17L277.87 232.43L276.16 233.68L274.45 234.94L272.74 236.20L271.03 237.45L269.32 238.71L267.60 239.95L265.89 241.19L264.18 242.41L262.47 243.63L260.76 244.82L259.05 246.00L257.34 247.16L255.62 248.30L253.91 249.41L252.20 250.50L250.49 251.55L248.78 252.58L247.07 253.57L245.36 254.52L243.65 255.44L241.93 256.31L240.22 257.14L238.51 257.93L236.80 258.67L235.09 259.37L233.38 260.01L231.67 260.60L229.95 261.14L228.24 261.62L226.53 262.04L224.82 262.41L223.11 262.71L221.40 262.95L219.69 263.13L217.98 263.25L216.26 263.30L214.55 263.28L212.84 263.20L211.13 263.04L209.42 262.82L207.71 262.53L206.00 262.16L204.28 261.73L202.57 261.22L200.86 260.64L199.15 259.99L197.44 259.27L195.73 258.48L194.02 257.62L192.31 256.68L190.59 255.68L188.88 254.61L187.17 253.48L185.46 252.28L183.75 251.02L182.04 249.70L180.33 248.32L178.62 246.88L176.90 245.39L175.19 243.85L173.48 242.27L171.77 240.64L170.06 238.97L168.35 237.27L166.64 235.54L164.92 233.78L163.21 231.99L161.50 230.19L159.79 228.37L158.08 226.55L156.37 224.72L154.66 222.89L152.95 221.07L151.23 219.26L149.52 217.46L147.81 215.69L146.10 213.94L144.39 212.22L142.68 210.53L140.97 208.89L139.25 207.28L137.54 205.73L135.83 204.22L134.12 202.77L132.41 201.38L130.70 200.05L128.99 198.78L127.28 197.58L125.56 196.45L123.85 195.39L122.14 194.40L120.43 193.48L118.72 192.64L117.01 191.87L115.30 191.18L113.58 190.56L111.87 190.02L110.16 189.55L108.45 189.15L106.74 188.83L105.03 188.57L103.32 188.39L101.61 188.27L99.89 188.21L98.18 188.22L96.47 188.29L94.76 188.41L93.05 188.59L91.34 188.83L89.63 189.11L87.92 189.44L86.20 189.81L84.49 190.22L82.78 190.68L81.07 191.17L79.36 191.69L77.65 192.25L75.94 192.83L74.22 193.44L72.51 194.08L70.80 194.75L69.09 195.43L67.38 196.14L65.67 196.86L63.96 197.61L62.25 198.37L60.53 199.15L58.82 199.94L57.11 200.75L55.40 201.58Z" fill="#e1b928" fill-opacity="0.14" stroke="#e1b928" stroke-opacity="0.14" stroke-width="0.65" clip-path="url(#clip_c)"/>
<path d="M55.40 233.46L57.11 232.49L58.82 231.60L60.53 230.78L62.25 230.05L63.96 229.39L65.67 228.82L67.38 228.34L69.09 227.94L70.80 227.63L72.51 227.41L74.22 227.28L75.94 227.23L77.65 227.27L79.36 227.39L81.07 227.60L82.78 227.89L84.49 228.26L86.20 228.71L87.92 229.23L89.63 229.82L91.34 230.48L93.05 231.20L94.76 231.98L96.47 232.81L98.18 233.70L99.89 234.63L101.61 235.60L103.32 236.61L105.03 237.66L106.74 238.73L108.45 239.82L110.16 240.93L111.87 242.05L113.58 243.19L115.30 244.33L117.01 245.47L118.72 246.60L120.43 247.73L122.14 248.85L123.85 249.96L125.56 251.06L127.28 252.13L128.99 253.19L130.70 254.23L132.41 255.24L134.12 256.23L135.83 257.20L137.54 258.14L139.25 259.06L140.97 259.95L142.68 260.82L144.39 261.67L146.10 262.50L147.81 263.30L149.52 264.09L151.23 264.86L152.95 265.62L154.66 266.36L156.37 267.10L158.08 267.82L159.79 268.53L161.50 269.25L163.21 269.95L164.92 270.66L166.64 271.37L168.35 272.07L170.06 272.79L171.77 273.50L173.48 274.23L175.19 274.96L176.90 275.70L178.62 276.44L180.33 277.20L182.04 277.96L183.75 278.73L185.46 279.51L187.17 280.30L188.88 281.09L190.59 281.88L192.31 282.68L194.02 283.47L195.73 284.27L197.44 285.06L199.15 285.85L200.86 286.63L202.57 287.39L204.28 288.15L206.00 288.88L207.71 289.60L209.42 290.30L211.13 290.96L212.84 291.60L214.55 292.21L216.26 292.79L217.98 293.32L219.69 293.82L221.40 294.27L223.11 294.68L224.82 295.04L226.53 295.35L228.24 295.61L229.95 295.81L231.67 295.96L233.38 296.05L235.09 296.08L236.80 296.05L238.51 295.95L240.22 295.80L241.93 295.58L243.65 295.30L245.36 294.95L247.07 294.54L248.78 294.06L250.49 293.52L252.20 292.92L253.91 292.25L255.62 291.52L257.34 290.73L259.05 289.88L260.76 288.97L262.47 288.00L264.18 286.97L265.89 285.89L267.60 284.76L269.32 283.57L271.03 282.33L272.74 281.05L274.45 279.72L276.16 278.34L277.87 276.93L279.58 275.48L281.29 273.99L283.01 272.47L284.72 270.92L286.43 269.34L288.14 267.74L289.85 266.12L291.56 264.49L293.27 262.84L294.98 261.18L296.70 259.52L298.41 257.86L300.12 256.19L301.83 254.54L303.54 252.90L305.25 251.27L306.96 249.66L308.68 248.08L310.39 246.52L312.10 245.00L313.81 243.51L315.52 242.07L317.23 240.67L318.94 239.32L320.65 238.02L322.37 236.79L324.08 235.61L325.79 234.50L327.50 233.46L327.50 197.01L325.79 197.92L324.08 198.90L322.37 199.93L320.65 201.01L318.94 202.14L317.23 203.31L315.52 204.52L313.81 205.77L312.10 207.05L310.39 208.35L308.68 209.68L306.96 211.03L305.25 212.40L303.54 213.77L301.83 215.16L300.12 216.54L298.41 217.93L296.70 219.32L294.98 220.69L293.27 222.06L291.56 223.41L289.85 224.75L288.14 226.06L286.43 227.35L284.72 228.62L283.01 229.85L281.29 231.06L279.58 232.23L277.87 233.36L276.16 234.46L274.45 235.51L272.74 236.52L271.03 237.49L269.32 238.41L267.60 239.28L265.89 240.10L264.18 240.87L262.47 241.59L260.76 242.26L259.05 242.87L257.34 243.43L255.62 243.93L253.91 244.37L252.20 244.76L250.49 245.09L248.78 245.37L247.07 245.59L245.36 245.75L243.65 245.86L241.93 245.91L240.22 245.90L238.51 245.84L236.80 245.73L235.09 245.57L233.38 245.35L231.67 245.09L229.95 244.78L228.24 244.42L226.53 244.02L224.82 243.58L223.11 243.10L221.40 242.59L219.69 242.04L217.98 241.46L216.26 240.85L214.55 240.22L212.84 239.57L211.13 238.89L209.42 238.21L207.71 237.50L206.00 236.79L204.28 236.07L202.57 235.35L200.86 234.63L199.15 233.90L197.44 233.18L195.73 232.47L194.02 231.77L192.31 231.07L190.59 230.39L188.88 229.73L187.17 229.08L185.46 228.44L183.75 227.83L182.04 227.23L180.33 226.65L178.62 226.09L176.90 225.54L175.19 225.02L173.48 224.51L171.77 224.02L170.06 223.54L168.35 223.07L166.64 222.62L164.92 222.18L163.21 221.74L161.50 221.31L159.79 220.88L158.08 220.45L156.37 220.02L154.66 219.59L152.95 219.15L151.23 218.70L149.52 218.24L147.81 217.76L146.10 217.27L144.39 216.76L142.68 216.23L140.97 215.68L139.25 215.10L137.54 214.51L135.83 213.88L134.12 213.23L132.41 212.56L130.70 211.86L128.99 211.14L127.28 210.39L125.56 209.62L123.85 208.83L122.14 208.02L120.43 207.19L118.72 206.34L117.01 205.49L115.30 204.62L113.58 203.75L111.87 202.88L110.16 202.01L108.45 201.14L106.74 200.29L105.03 199.44L103.32 198.62L101.61 197.82L99.89 197.05L98.18 196.30L96.47 195.60L94.76 194.93L93.05 194.31L91.34 193.74L89.63 193.21L87.92 192.75L86.20 192.34L84.49 191.99L82.78 191.71L81.07 191.50L79.36 191.36L77.65 191.28L75.94 191.28L74.22 191.36L72.51 191.51L70.80 191.73L69.09 192.03L67.38 192.40L65.67 192.85L63.96 193.37L62.25 193.96L60.53 194.62L58.82 195.35L57.11 196.15L55.40 197.01Z" fill="#c33e4b" fill-opacity="0.13" stroke="#c33e4b" stroke-opacity="0.13" stroke-width="0.65" clip-path="url(#clip_c)"/>
<path d="M55.40 183.50V318.80M78.51 183.50V318.80M99.38 183.50V318.80M122.49 183.50V318.80M144.86 183.50V318.80M167.97 183.50V318.80M190.33 183.50V318.80M213.44 183.50V318.80M236.55 183.50V318.80M258.92 183.50V318.80M282.03 183.50V318.80M304.39 183.50V318.80M327.50 183.50V318.80M41.60 302.30H340.90M41.60 282.00H340.90M41.60 261.70H340.90M41.60 241.40H340.90M41.60 221.10H340.90M41.60 200.80H340.90" stroke="#b0b0b0" stroke-width="0.65" fill="none"/>
<path d="M55.40 215.01L57.11 214.15L58.82 213.36L60.53 212.65L62.25 212.00L63.96 211.44L65.67 210.95L67.38 210.53L69.09 210.20L70.80 209.95L72.51 209.78L74.22 209.68L75.94 209.67L77.65 209.74L79.36 209.88L81.07 210.10L82.78 210.39L84.49 210.76L86.20 211.19L87.92 211.69L89.63 212.25L91.34 212.87L93.05 213.55L94.76 214.28L96.47 215.06L98.18 215.88L99.89 216.74L101.61 217.63L103.32 218.55L105.03 219.50L106.74 220.47L108.45 221.46L110.16 222.45L111.87 223.46L113.58 224.46L115.30 225.47L117.01 226.47L118.72 227.46L120.43 228.44L122.14 229.41L123.85 230.36L125.56 231.29L127.28 232.20L128.99 233.09L130.70 233.95L132.41 234.78L134.12 235.59L135.83 236.37L137.54 237.13L139.25 237.86L140.97 238.56L142.68 239.24L144.39 239.89L146.10 240.52L147.81 241.13L149.52 241.72L151.23 242.29L152.95 242.85L154.66 243.40L156.37 243.94L158.08 244.46L159.79 244.99L161.50 245.50L163.21 246.02L164.92 246.54L166.64 247.06L168.35 247.59L170.06 248.12L171.77 248.66L173.48 249.21L175.19 249.77L176.90 250.35L178.62 250.93L180.33 251.53L182.04 252.15L183.75 252.77L185.46 253.41L187.17 254.06L188.88 254.72L190.59 255.39L192.31 256.07L194.02 256.76L195.73 257.45L197.44 258.15L199.15 258.85L200.86 259.54L202.57 260.24L204.28 260.92L206.00 261.60L207.71 262.26L209.42 262.91L211.13 263.54L212.84 264.15L214.55 264.74L216.26 265.29L217.98 265.82L219.69 266.32L221.40 266.78L223.11 267.21L224.82 267.59L226.53 267.93L228.24 268.23L229.95 268.48L231.67 268.68L233.38 268.83L235.09 268.93L236.80 268.98L238.51 268.97L240.22 268.91L241.93 268.79L243.65 268.61L245.36 268.37L247.07 268.08L248.78 267.73L250.49 267.31L252.20 266.85L253.91 266.32L255.62 265.74L257.34 265.10L259.05 264.40L260.76 263.65L262.47 262.85L264.18 261.99L265.89 261.08L267.60 260.12L269.32 259.12L271.03 258.06L272.74 256.96L274.45 255.82L276.16 254.64L277.87 253.42L279.58 252.16L281.29 250.87L283.01 249.54L284.72 248.19L286.43 246.81L288.14 245.41L289.85 243.99L291.56 242.55L293.27 241.10L294.98 239.63L296.70 238.16L298.41 236.69L300.12 235.22L301.83 233.75L303.54 232.29L305.25 230.85L306.96 229.42L308.68 228.01L310.39 226.62L312.10 225.27L313.81 223.94L315.52 222.65L317.23 221.41L318.94 220.21L320.65 219.06L322.37 217.96L324.08 216.91L325.79 215.93L327.50 215.01" stroke="#ff0000" stroke-width="1.35" fill="none" stroke-linejoin="round" stroke-linecap="square" clip-path="url(#clip_c)"/>
<path d="M55.40 218.58L57.11 217.75L58.82 216.95L60.53 216.17L62.25 215.42L63.96 214.68L65.67 213.97L67.38 213.29L69.09 212.63L70.80 212.00L72.51 211.39L74.22 210.82L75.94 210.27L77.65 209.76L79.36 209.29L81.07 208.85L82.78 208.45L84.49 208.09L86.20 207.78L87.92 207.51L89.63 207.29L91.34 207.13L93.05 207.01L94.76 206.96L96.47 206.96L98.18 207.02L99.89 207.15L101.61 207.34L103.32 207.60L105.03 207.93L106.74 208.33L108.45 208.80L110.16 209.34L111.87 209.96L113.58 210.66L115.30 211.43L117.01 212.28L118.72 213.21L120.43 214.20L122.14 215.28L123.85 216.43L125.56 217.65L127.28 218.94L128.99 220.29L130.70 221.72L132.41 223.20L134.12 224.75L135.83 226.35L137.54 228.01L139.25 229.71L140.97 231.46L142.68 233.25L144.39 235.08L146.10 236.94L147.81 238.82L149.52 240.73L151.23 242.65L152.95 244.59L154.66 246.53L156.37 248.48L158.08 250.42L159.79 252.35L161.50 254.27L163.21 256.17L164.92 258.05L166.64 259.90L168.35 261.72L170.06 263.50L171.77 265.24L173.48 266.93L175.19 268.58L176.90 270.17L178.62 271.71L180.33 273.19L182.04 274.60L183.75 275.96L185.46 277.24L187.17 278.46L188.88 279.61L190.59 280.68L192.31 281.68L194.02 282.61L195.73 283.46L197.44 284.23L199.15 284.93L200.86 285.55L202.57 286.09L204.28 286.55L206.00 286.94L207.71 287.25L209.42 287.48L211.13 287.64L212.84 287.72L214.55 287.73L216.26 287.66L217.98 287.52L219.69 287.31L221.40 287.04L223.11 286.69L224.82 286.28L226.53 285.80L228.24 285.26L229.95 284.66L231.67 284.00L233.38 283.28L235.09 282.50L236.80 281.67L238.51 280.79L240.22 279.86L241.93 278.89L243.65 277.87L245.36 276.80L247.07 275.70L248.78 274.56L250.49 273.38L252.20 272.17L253.91 270.93L255.62 269.66L257.34 268.36L259.05 267.04L260.76 265.71L262.47 264.35L264.18 262.98L265.89 261.60L267.60 260.21L269.32 258.81L271.03 257.40L272.74 255.99L274.45 254.58L276.16 253.18L277.87 251.78L279.58 250.38L281.29 248.99L283.01 247.62L284.72 246.25L286.43 244.90L288.14 243.56L289.85 242.24L291.56 240.94L293.27 239.66L294.98 238.39L296.70 237.15L298.41 235.93L300.12 234.73L301.83 233.55L303.54 232.39L305.25 231.26L306.96 230.15L308.68 229.06L310.39 228.00L312.10 226.96L313.81 225.94L315.52 224.94L317.23 223.97L318.94 223.01L320.65 222.08L322.37 221.17L324.08 220.29L325.79 219.42L327.50 218.58" stroke="#eda02a" stroke-width="1.35" fill="none" stroke-linejoin="round" stroke-linecap="square" clip-path="url(#clip_c)"/>
<rect x="197.80" y="188.00" width="138.50" height="26.10" rx="1.6" ry="1.6" fill="#fff" fill-opacity="0.8" stroke="#cccccc" stroke-width="0.65"/>
<path d="M200.20 194.60h17.4" stroke="#ff0000" stroke-width="1.35"/>
<text x="223.40" y="197.57" font-size="8.31" text-anchor="start" textLength="110.22" lengthAdjust="spacingAndGlyphs" fill="#000" >Estimated Curve New Data</text>
<path d="M200.20 206.90h17.4" stroke="#eda02a" stroke-width="1.35"/>
<text x="223.40" y="209.87" font-size="8.31" text-anchor="start" textLength="106.30" lengthAdjust="spacingAndGlyphs" fill="#000" >Estimated Curve Old Data</text>
<path d="M55.40 318.80v3.2M78.51 318.80v3.2M99.38 318.80v3.2M122.49 318.80v3.2M144.86 318.80v3.2M167.97 318.80v3.2M190.33 318.80v3.2M213.44 318.80v3.2M236.55 318.80v3.2M258.92 318.80v3.2M282.03 318.80v3.2M304.39 318.80v3.2M327.50 318.80v3.2M41.60 302.30h-3.2M41.60 282.00h-3.2M41.60 261.70h-3.2M41.60 241.40h-3.2M41.60 221.10h-3.2M41.60 200.80h-3.2" stroke="#000" stroke-width="0.7" fill="none"/>
<rect x="41.60" y="183.50" width="299.30" height="135.30" fill="none" stroke="#000" stroke-width="0.7" stroke-linejoin="miter" stroke-linecap="square"/>
<text x="55.40" y="331.40" font-size="8.31" text-anchor="middle" textLength="12.56" lengthAdjust="spacingAndGlyphs" fill="#000" >Jan</text>
<text x="78.51" y="331.40" font-size="8.31" text-anchor="middle" textLength="14.43" lengthAdjust="spacingAndGlyphs" fill="#000" >Feb</text>
<text x="99.38" y="331.40" font-size="8.31" text-anchor="middle" textLength="15.38" lengthAdjust="spacingAndGlyphs" fill="#000" >Mar</text>
<text x="122.49" y="331.40" font-size="8.31" text-anchor="middle" textLength="14.10" lengthAdjust="spacingAndGlyphs" fill="#000" >Apr</text>
<text x="144.86" y="331.40" font-size="8.31" text-anchor="middle" textLength="16.85" lengthAdjust="spacingAndGlyphs" fill="#000" >May</text>
<text x="167.97" y="331.40" font-size="8.31" text-anchor="middle" textLength="12.73" lengthAdjust="spacingAndGlyphs" fill="#000" >Jun</text>
<text x="190.33" y="331.40" font-size="8.31" text-anchor="middle" textLength="9.83" lengthAdjust="spacingAndGlyphs" fill="#000" >Jul</text>
<text x="213.44" y="331.40" font-size="8.31" text-anchor="middle" textLength="15.91" lengthAdjust="spacingAndGlyphs" fill="#000" >Aug</text>
<text x="236.55" y="331.40" font-size="8.31" text-anchor="middle" textLength="15.36" lengthAdjust="spacingAndGlyphs" fill="#000" >Sep</text>
<text x="258.92" y="331.40" font-size="8.31" text-anchor="middle" textLength="14.09" lengthAdjust="spacingAndGlyphs" fill="#000" >Oct</text>
<text x="282.03" y="331.40" font-size="8.31" text-anchor="middle" textLength="15.91" lengthAdjust="spacingAndGlyphs" fill="#000" >Nov</text>
<text x="304.39" y="331.40" font-size="8.31" text-anchor="middle" textLength="15.77" lengthAdjust="spacingAndGlyphs" fill="#000" >Dec</text>
<text x="327.50" y="331.40" font-size="8.31" text-anchor="middle" textLength="12.56" lengthAdjust="spacingAndGlyphs" fill="#000" >Jan</text>
<text x="35.80" y="305.97" font-size="8.31" text-anchor="end" textLength="23.33" lengthAdjust="spacingAndGlyphs" fill="#000" >0.750</text>
<text x="35.80" y="285.67" font-size="8.31" text-anchor="end" textLength="23.33" lengthAdjust="spacingAndGlyphs" fill="#000" >0.775</text>
<text x="35.80" y="265.37" font-size="8.31" text-anchor="end" textLength="23.33" lengthAdjust="spacingAndGlyphs" fill="#000" >0.800</text>
<text x="35.80" y="245.07" font-size="8.31" text-anchor="end" textLength="23.33" lengthAdjust="spacingAndGlyphs" fill="#000" >0.825</text>
<text x="35.80" y="224.77" font-size="8.31" text-anchor="end" textLength="23.33" lengthAdjust="spacingAndGlyphs" fill="#000" >0.850</text>
<text x="35.80" y="204.47" font-size="8.31" text-anchor="end" textLength="23.33" lengthAdjust="spacingAndGlyphs" fill="#000" >0.875</text>
<text y="178.10" font-size="8.70" ><tspan x="185.48">(</tspan><tspan x="189.08">c</tspan><tspan x="194.13">)</tspan></text>
<g transform="translate(6.90 251.15) rotate(-90)">
<text x="-55.46" y="0" font-size="8.31" textLength="91.69" lengthAdjust="spacingAndGlyphs">Persistence coefficient</text>
<text y="0.00" font-size="8.31" ><tspan x="39.19" font-style="italic">ϕ</tspan><tspan x="44.40">(</tspan><tspan x="48.27" font-style="italic">τ</tspan><tspan x="52.49">)</tspan></text>
</g>
<path d="M398.60 311.36L400.31 311.00L402.02 310.56L403.73 310.03L405.45 309.42L407.16 308.72L408.87 307.94L410.58 307.08L412.29 306.13L414.00 305.11L415.71 304.01L417.42 302.83L419.14 301.58L420.85 300.26L422.56 298.87L424.27 297.41L425.98 295.89L427.69 294.31L429.40 292.67L431.12 290.98L432.83 289.23L434.54 287.44L436.25 285.60L437.96 283.73L439.67 281.81L441.38 279.87L443.09 277.89L444.81 275.90L446.52 273.87L448.23 271.84L449.94 269.79L451.65 267.73L453.36 265.66L455.07 263.59L456.78 261.53L458.50 259.47L460.21 257.43L461.92 255.39L463.63 253.38L465.34 251.39L467.05 249.42L468.76 247.48L470.48 245.58L472.19 243.71L473.90 241.89L475.61 240.10L477.32 238.37L479.03 236.68L480.74 235.04L482.45 233.47L484.17 231.95L485.88 230.49L487.59 229.09L489.30 227.77L491.01 226.51L492.72 225.32L494.43 224.20L496.15 223.16L497.86 222.19L499.57 221.31L501.28 220.50L502.99 219.77L504.70 219.12L506.41 218.55L508.12 218.06L509.84 217.66L511.55 217.33L513.26 217.09L514.97 216.93L516.68 216.85L518.39 216.86L520.10 216.94L521.82 217.09L523.53 217.33L525.24 217.64L526.95 218.03L528.66 218.48L530.37 219.01L532.08 219.61L533.79 220.27L535.51 220.99L537.22 221.78L538.93 222.62L540.64 223.52L542.35 224.48L544.06 225.49L545.77 226.54L547.48 227.64L549.20 228.79L550.91 229.97L552.62 231.20L554.33 232.46L556.04 233.75L557.75 235.07L559.46 236.42L561.18 237.80L562.89 239.20L564.60 240.62L566.31 242.07L568.02 243.53L569.73 245.01L571.44 246.50L573.15 248.00L574.87 249.52L576.58 251.05L578.29 252.58L580.00 254.12L581.71 255.67L583.42 257.22L585.13 258.78L586.85 260.34L588.56 261.91L590.27 263.48L591.98 265.04L593.69 266.61L595.40 268.17L597.11 269.74L598.82 271.30L600.54 272.86L602.25 274.41L603.96 275.96L605.67 277.50L607.38 279.03L609.09 280.56L610.80 282.07L612.52 283.57L614.23 285.06L615.94 286.53L617.65 287.99L619.36 289.42L621.07 290.84L622.78 292.23L624.49 293.59L626.21 294.93L627.92 296.24L629.63 297.51L631.34 298.75L633.05 299.95L634.76 301.11L636.47 302.23L638.18 303.30L639.90 304.32L641.61 305.29L643.32 306.20L645.03 307.05L646.74 307.85L648.45 308.58L650.16 309.25L651.88 309.84L653.59 310.37L655.30 310.83L657.01 311.21L658.72 311.51L660.43 311.73L662.14 311.88L663.85 311.94L665.57 311.92L667.28 311.82L668.99 311.63L670.70 311.36L670.70 289.65L668.99 289.89L667.28 290.04L665.57 290.11L663.85 290.08L662.14 289.97L660.43 289.77L658.72 289.49L657.01 289.12L655.30 288.68L653.59 288.15L651.88 287.55L650.16 286.87L648.45 286.12L646.74 285.31L645.03 284.42L643.32 283.47L641.61 282.46L639.90 281.39L638.18 280.27L636.47 279.09L634.76 277.87L633.05 276.60L631.34 275.28L629.63 273.93L627.92 272.54L626.21 271.11L624.49 269.65L622.78 268.16L621.07 266.65L619.36 265.11L617.65 263.55L615.94 261.97L614.23 260.37L612.52 258.75L610.80 257.12L609.09 255.48L607.38 253.83L605.67 252.17L603.96 250.51L602.25 248.84L600.54 247.16L598.82 245.48L597.11 243.80L595.40 242.11L593.69 240.43L591.98 238.75L590.27 237.07L588.56 235.39L586.85 233.72L585.13 232.06L583.42 230.40L581.71 228.74L580.00 227.10L578.29 225.47L576.58 223.84L574.87 222.23L573.15 220.63L571.44 219.05L569.73 217.49L568.02 215.94L566.31 214.42L564.60 212.91L562.89 211.43L561.18 209.98L559.46 208.56L557.75 207.16L556.04 205.80L554.33 204.48L552.62 203.19L550.91 201.95L549.20 200.74L547.48 199.59L545.77 198.48L544.06 197.42L542.35 196.42L540.64 195.47L538.93 194.58L537.22 193.75L535.51 192.99L533.79 192.29L532.08 191.66L530.37 191.10L528.66 190.62L526.95 190.21L525.24 189.88L523.53 189.62L521.82 189.44L520.10 189.35L518.39 189.34L516.68 189.41L514.97 189.57L513.26 189.81L511.55 190.13L509.84 190.55L508.12 191.04L506.41 191.62L504.70 192.29L502.99 193.04L501.28 193.88L499.57 194.79L497.86 195.79L496.15 196.87L494.43 198.03L492.72 199.26L491.01 200.57L489.30 201.95L487.59 203.40L485.88 204.92L484.17 206.50L482.45 208.14L480.74 209.85L479.03 211.61L477.32 213.42L475.61 215.29L473.90 217.20L472.19 219.15L470.48 221.14L468.76 223.17L467.05 225.23L465.34 227.32L463.63 229.44L461.92 231.57L460.21 233.73L458.50 235.89L456.78 238.06L455.07 240.24L453.36 242.42L451.65 244.59L449.94 246.76L448.23 248.91L446.52 251.05L444.81 253.17L443.09 255.26L441.38 257.33L439.67 259.36L437.96 261.36L436.25 263.31L434.54 265.22L432.83 267.08L431.12 268.90L429.40 270.65L427.69 272.35L425.98 273.98L424.27 275.55L422.56 277.06L420.85 278.49L419.14 279.84L417.42 281.12L415.71 282.33L414.00 283.45L412.29 284.49L410.58 285.44L408.87 286.31L407.16 287.09L405.45 287.78L403.73 288.38L402.02 288.89L400.31 289.32L398.60 289.65Z" fill="#e1b928" fill-opacity="0.14" stroke="#e1b928" stroke-opacity="0.14" stroke-width="0.65" clip-path="url(#clip_d)"/>
<path d="M398.60 292.02L400.31 291.93L402.02 291.78L403.73 291.56L405.45 291.27L407.16 290.92L408.87 290.51L410.58 290.03L412.29 289.50L414.00 288.90L415.71 288.25L417.42 287.54L419.14 286.78L420.85 285.97L422.56 285.11L424.27 284.20L425.98 283.25L427.69 282.26L429.40 281.23L431.12 280.17L432.83 279.07L434.54 277.94L436.25 276.78L437.96 275.60L439.67 274.40L441.38 273.19L443.09 271.95L444.81 270.71L446.52 269.45L448.23 268.19L449.94 266.93L451.65 265.66L453.36 264.39L455.07 263.13L456.78 261.88L458.50 260.63L460.21 259.40L461.92 258.18L463.63 256.97L465.34 255.78L467.05 254.61L468.76 253.46L470.48 252.33L472.19 251.23L473.90 250.15L475.61 249.09L477.32 248.07L479.03 247.07L480.74 246.09L482.45 245.15L484.17 244.24L485.88 243.36L487.59 242.51L489.30 241.69L491.01 240.90L492.72 240.14L494.43 239.41L496.15 238.72L497.86 238.05L499.57 237.42L501.28 236.82L502.99 236.25L504.70 235.71L506.41 235.20L508.12 234.72L509.84 234.27L511.55 233.85L513.26 233.46L514.97 233.10L516.68 232.77L518.39 232.47L520.10 232.20L521.82 231.96L523.53 231.74L525.24 231.56L526.95 231.40L528.66 231.27L530.37 231.17L532.08 231.10L533.79 231.06L535.51 231.05L537.22 231.06L538.93 231.11L540.64 231.19L542.35 231.30L544.06 231.44L545.77 231.61L547.48 231.81L549.20 232.04L550.91 232.31L552.62 232.60L554.33 232.93L556.04 233.30L557.75 233.70L559.46 234.13L561.18 234.60L562.89 235.10L564.60 235.64L566.31 236.21L568.02 236.82L569.73 237.46L571.44 238.14L573.15 238.85L574.87 239.60L576.58 240.39L578.29 241.21L580.00 242.06L581.71 242.95L583.42 243.87L585.13 244.82L586.85 245.81L588.56 246.83L590.27 247.87L591.98 248.95L593.69 250.06L595.40 251.19L597.11 252.34L598.82 253.52L600.54 254.72L602.25 255.94L603.96 257.17L605.67 258.43L607.38 259.69L609.09 260.97L610.80 262.26L612.52 263.55L614.23 264.84L615.94 266.14L617.65 267.44L619.36 268.73L621.07 270.01L622.78 271.29L624.49 272.55L626.21 273.80L627.92 275.03L629.63 276.23L631.34 277.41L633.05 278.57L634.76 279.69L636.47 280.78L638.18 281.84L639.90 282.85L641.61 283.83L643.32 284.76L645.03 285.64L646.74 286.48L648.45 287.26L650.16 287.99L651.88 288.67L653.59 289.29L655.30 289.85L657.01 290.35L658.72 290.78L660.43 291.16L662.14 291.47L663.85 291.71L665.57 291.89L667.28 292.00L668.99 292.04L670.70 292.02L670.70 268.60L668.99 268.39L667.28 268.10L665.57 267.75L663.85 267.33L662.14 266.84L660.43 266.29L658.72 265.67L657.01 264.98L655.30 264.24L653.59 263.43L651.88 262.57L650.16 261.65L648.45 260.68L646.74 259.65L645.03 258.58L643.32 257.46L641.61 256.29L639.90 255.09L638.18 253.84L636.47 252.57L634.76 251.26L633.05 249.92L631.34 248.56L629.63 247.18L627.92 245.78L626.21 244.36L624.49 242.93L622.78 241.49L621.07 240.04L619.36 238.60L617.65 237.15L615.94 235.71L614.23 234.27L612.52 232.84L610.80 231.43L609.09 230.03L607.38 228.64L605.67 227.28L603.96 225.94L602.25 224.62L600.54 223.34L598.82 222.08L597.11 220.85L595.40 219.65L593.69 218.49L591.98 217.37L590.27 216.28L588.56 215.23L586.85 214.22L585.13 213.25L583.42 212.32L581.71 211.44L580.00 210.60L578.29 209.80L576.58 209.04L574.87 208.33L573.15 207.67L571.44 207.05L569.73 206.47L568.02 205.94L566.31 205.45L564.60 205.01L562.89 204.61L561.18 204.25L559.46 203.93L557.75 203.66L556.04 203.43L554.33 203.24L552.62 203.09L550.91 202.98L549.20 202.91L547.48 202.87L545.77 202.88L544.06 202.92L542.35 202.99L540.64 203.11L538.93 203.25L537.22 203.43L535.51 203.65L533.79 203.90L532.08 204.17L530.37 204.49L528.66 204.83L526.95 205.20L525.24 205.60L523.53 206.03L521.82 206.49L520.10 206.99L518.39 207.50L516.68 208.05L514.97 208.63L513.26 209.23L511.55 209.86L509.84 210.52L508.12 211.21L506.41 211.92L504.70 212.66L502.99 213.43L501.28 214.22L499.57 215.05L497.86 215.89L496.15 216.77L494.43 217.67L492.72 218.59L491.01 219.54L489.30 220.52L487.59 221.52L485.88 222.54L484.17 223.59L482.45 224.66L480.74 225.76L479.03 226.87L477.32 228.01L475.61 229.16L473.90 230.34L472.19 231.53L470.48 232.73L468.76 233.95L467.05 235.19L465.34 236.43L463.63 237.68L461.92 238.94L460.21 240.21L458.50 241.48L456.78 242.75L455.07 244.03L453.36 245.29L451.65 246.56L449.94 247.81L448.23 249.05L446.52 250.28L444.81 251.50L443.09 252.69L441.38 253.86L439.67 255.01L437.96 256.13L436.25 257.22L434.54 258.28L432.83 259.30L431.12 260.28L429.40 261.22L427.69 262.12L425.98 262.97L424.27 263.78L422.56 264.53L420.85 265.22L419.14 265.86L417.42 266.45L415.71 266.97L414.00 267.43L412.29 267.83L410.58 268.16L408.87 268.43L407.16 268.63L405.45 268.77L403.73 268.83L402.02 268.82L400.31 268.75L398.60 268.60Z" fill="#c33e4b" fill-opacity="0.13" stroke="#c33e4b" stroke-opacity="0.13" stroke-width="0.65" clip-path="url(#clip_d)"/>
<path d="M398.60 183.50V318.80M421.71 183.50V318.80M442.58 183.50V318.80M465.69 183.50V318.80M488.06 183.50V318.80M511.17 183.50V318.80M533.53 183.50V318.80M556.64 183.50V318.80M579.75 183.50V318.80M602.12 183.50V318.80M625.23 183.50V318.80M647.59 183.50V318.80M670.70 183.50V318.80M384.50 308.50H683.30M384.50 279.73H683.30M384.50 250.95H683.30M384.50 222.17H683.30M384.50 193.40H683.30" stroke="#b0b0b0" stroke-width="0.65" fill="none"/>
<path d="M398.60 280.48L400.31 280.51L402.02 280.47L403.73 280.37L405.45 280.20L407.16 279.96L408.87 279.66L410.58 279.29L412.29 278.86L414.00 278.37L415.71 277.82L417.42 277.21L419.14 276.54L420.85 275.81L422.56 275.04L424.27 274.21L425.98 273.34L427.69 272.42L429.40 271.46L431.12 270.46L432.83 269.42L434.54 268.35L436.25 267.24L437.96 266.11L439.67 264.95L441.38 263.77L443.09 262.57L444.81 261.35L446.52 260.12L448.23 258.87L449.94 257.62L451.65 256.36L453.36 255.09L455.07 253.83L456.78 252.57L458.50 251.31L460.21 250.05L461.92 248.81L463.63 247.57L465.34 246.35L467.05 245.14L468.76 243.95L470.48 242.77L472.19 241.61L473.90 240.48L475.61 239.36L477.32 238.27L479.03 237.20L480.74 236.15L482.45 235.13L484.17 234.14L485.88 233.17L487.59 232.23L489.30 231.31L491.01 230.42L492.72 229.57L494.43 228.74L496.15 227.93L497.86 227.16L499.57 226.42L501.28 225.70L502.99 225.01L504.70 224.36L506.41 223.73L508.12 223.13L509.84 222.55L511.55 222.01L513.26 221.49L514.97 221.01L516.68 220.55L518.39 220.12L520.10 219.72L521.82 219.35L523.53 219.01L525.24 218.69L526.95 218.41L528.66 218.15L530.37 217.93L532.08 217.73L533.79 217.57L535.51 217.43L537.22 217.33L538.93 217.26L540.64 217.22L542.35 217.21L544.06 217.24L545.77 217.30L547.48 217.39L549.20 217.52L550.91 217.69L552.62 217.89L554.33 218.13L556.04 218.40L557.75 218.71L559.46 219.06L561.18 219.45L562.89 219.88L564.60 220.34L566.31 220.85L568.02 221.39L569.73 221.98L571.44 222.60L573.15 223.27L574.87 223.97L576.58 224.72L578.29 225.51L580.00 226.33L581.71 227.19L583.42 228.10L585.13 229.04L586.85 230.01L588.56 231.03L590.27 232.08L591.98 233.16L593.69 234.27L595.40 235.42L597.11 236.60L598.82 237.80L600.54 239.03L602.25 240.29L603.96 241.56L605.67 242.86L607.38 244.18L609.09 245.51L610.80 246.86L612.52 248.21L614.23 249.58L615.94 250.95L617.65 252.32L619.36 253.69L621.07 255.06L622.78 256.42L624.49 257.78L626.21 259.12L627.92 260.45L629.63 261.76L631.34 263.04L633.05 264.30L634.76 265.54L636.47 266.74L638.18 267.91L639.90 269.05L641.61 270.14L643.32 271.19L645.03 272.20L646.74 273.16L648.45 274.07L650.16 274.93L651.88 275.73L653.59 276.48L655.30 277.16L657.01 277.79L658.72 278.36L660.43 278.86L662.14 279.29L663.85 279.66L665.57 279.97L667.28 280.21L668.99 280.38L670.70 280.48" stroke="#ff0000" stroke-width="1.35" fill="none" stroke-linejoin="round" stroke-linecap="square" clip-path="url(#clip_d)"/>
<path d="M398.60 300.45L400.31 300.12L402.02 299.70L403.73 299.19L405.45 298.59L407.16 297.91L408.87 297.13L410.58 296.28L412.29 295.33L414.00 294.31L415.71 293.20L417.42 292.02L419.14 290.75L420.85 289.42L422.56 288.00L424.27 286.52L425.98 284.98L427.69 283.37L429.40 281.69L431.12 279.96L432.83 278.18L434.54 276.35L436.25 274.47L437.96 272.54L439.67 270.58L441.38 268.58L443.09 266.55L444.81 264.49L446.52 262.40L448.23 260.30L449.94 258.18L451.65 256.06L453.36 253.92L455.07 251.78L456.78 249.64L458.50 247.50L460.21 245.38L461.92 243.27L463.63 241.17L465.34 239.10L467.05 237.04L468.76 235.02L470.48 233.03L472.19 231.08L473.90 229.16L475.61 227.29L477.32 225.47L479.03 223.69L480.74 221.97L482.45 220.30L484.17 218.69L485.88 217.15L487.59 215.66L489.30 214.25L491.01 212.90L492.72 211.63L494.43 210.43L496.15 209.30L497.86 208.25L499.57 207.28L501.28 206.39L502.99 205.59L504.70 204.86L506.41 204.22L508.12 203.66L509.84 203.19L511.55 202.79L513.26 202.49L514.97 202.27L516.68 202.13L518.39 202.07L520.10 202.09L521.82 202.20L523.53 202.39L525.24 202.65L526.95 202.99L528.66 203.41L530.37 203.90L532.08 204.46L533.79 205.09L535.51 205.79L537.22 206.55L538.93 207.37L540.64 208.26L542.35 209.20L544.06 210.20L545.77 211.25L547.48 212.34L549.20 213.49L550.91 214.68L552.62 215.91L554.33 217.18L556.04 218.48L557.75 219.82L559.46 221.20L561.18 222.60L562.89 224.03L564.60 225.48L566.31 226.96L568.02 228.46L569.73 229.98L571.44 231.51L573.15 233.06L574.87 234.63L576.58 236.21L578.29 237.80L580.00 239.40L581.71 241.01L583.42 242.63L585.13 244.25L586.85 245.88L588.56 247.52L590.27 249.15L591.98 250.79L593.69 252.44L595.40 254.08L597.11 255.72L598.82 257.37L600.54 259.01L602.25 260.64L603.96 262.28L605.67 263.90L607.38 265.52L609.09 267.14L610.80 268.74L612.52 270.33L614.23 271.90L615.94 273.46L617.65 275.01L619.36 276.53L621.07 278.04L622.78 279.52L624.49 280.97L626.21 282.39L627.92 283.79L629.63 285.15L631.34 286.47L633.05 287.75L634.76 288.99L636.47 290.19L638.18 291.34L639.90 292.44L641.61 293.48L643.32 294.46L645.03 295.39L646.74 296.25L648.45 297.05L650.16 297.78L651.88 298.44L653.59 299.03L655.30 299.54L657.01 299.97L658.72 300.33L660.43 300.60L662.14 300.79L663.85 300.90L665.57 300.91L667.28 300.85L668.99 300.69L670.70 300.45" stroke="#eda02a" stroke-width="1.35" fill="none" stroke-linejoin="round" stroke-linecap="square" clip-path="url(#clip_d)"/>
<rect x="464.70" y="288.40" width="138.50" height="26.10" rx="1.6" ry="1.6" fill="#fff" fill-opacity="0.8" stroke="#cccccc" stroke-width="0.65"/>
<path d="M467.10 295.00h17.4" stroke="#ff0000" stroke-width="1.35"/>
<text x="490.30" y="297.97" font-size="8.31" text-anchor="start" textLength="110.22" lengthAdjust="spacingAndGlyphs" fill="#000" >Estimated Curve New Data</text>
<path d="M467.10 307.30h17.4" stroke="#eda02a" stroke-width="1.35"/>
<text x="490.30" y="310.27" font-size="8.31" text-anchor="start" textLength="106.30" lengthAdjust="spacingAndGlyphs" fill="#000" >Estimated Curve Old Data</text>
<path d="M398.60 318.80v3.2M421.71 318.80v3.2M442.58 318.80v3.2M465.69 318.80v3.2M488.06 318.80v3.2M511.17 318.80v3.2M533.53 318.80v3.2M556.64 318.80v3.2M579.75 318.80v3.2M602.12 318.80v3.2M625.23 318.80v3.2M647.59 318.80v3.2M670.70 318.80v3.2M384.50 308.50h-3.2M384.50 279.73h-3.2M384.50 250.95h-3.2M384.50 222.17h-3.2M384.50 193.40h-3.2" stroke="#000" stroke-width="0.7" fill="none"/>
<rect x="384.50" y="183.50" width="298.80" height="135.30" fill="none" stroke="#000" stroke-width="0.7" stroke-linejoin="miter" stroke-linecap="square"/>
<text x="398.60" y="331.40" font-size="8.31" text-anchor="middle" textLength="12.56" lengthAdjust="spacingAndGlyphs" fill="#000" >Jan</text>
<text x="421.71" y="331.40" font-size="8.31" text-anchor="middle" textLength="14.43" lengthAdjust="spacingAndGlyphs" fill="#000" >Feb</text>
<text x="442.58" y="331.40" font-size="8.31" text-anchor="middle" textLength="15.38" lengthAdjust="spacingAndGlyphs" fill="#000" >Mar</text>
<text x="465.69" y="331.40" font-size="8.31" text-anchor="middle" textLength="14.10" lengthAdjust="spacingAndGlyphs" fill="#000" >Apr</text>
<text x="488.06" y="331.40" font-size="8.31" text-anchor="middle" textLength="16.85" lengthAdjust="spacingAndGlyphs" fill="#000" >May</text>
<text x="511.17" y="331.40" font-size="8.31" text-anchor="middle" textLength="12.73" lengthAdjust="spacingAndGlyphs" fill="#000" >Jun</text>
<text x="533.53" y="331.40" font-size="8.31" text-anchor="middle" textLength="9.83" lengthAdjust="spacingAndGlyphs" fill="#000" >Jul</text>
<text x="556.64" y="331.40" font-size="8.31" text-anchor="middle" textLength="15.91" lengthAdjust="spacingAndGlyphs" fill="#000" >Aug</text>
<text x="579.75" y="331.40" font-size="8.31" text-anchor="middle" textLength="15.36" lengthAdjust="spacingAndGlyphs" fill="#000" >Sep</text>
<text x="602.12" y="331.40" font-size="8.31" text-anchor="middle" textLength="14.09" lengthAdjust="spacingAndGlyphs" fill="#000" >Oct</text>
<text x="625.23" y="331.40" font-size="8.31" text-anchor="middle" textLength="15.91" lengthAdjust="spacingAndGlyphs" fill="#000" >Nov</text>
<text x="647.59" y="331.40" font-size="8.31" text-anchor="middle" textLength="15.77" lengthAdjust="spacingAndGlyphs" fill="#000" >Dec</text>
<text x="670.70" y="331.40" font-size="8.31" text-anchor="middle" textLength="12.56" lengthAdjust="spacingAndGlyphs" fill="#000" >Jan</text>
<text x="378.70" y="312.17" font-size="8.31" text-anchor="end" textLength="12.96" lengthAdjust="spacingAndGlyphs" fill="#000" >0.6</text>
<text x="378.70" y="283.40" font-size="8.31" text-anchor="end" textLength="12.96" lengthAdjust="spacingAndGlyphs" fill="#000" >0.7</text>
<text x="378.70" y="254.62" font-size="8.31" text-anchor="end" textLength="12.96" lengthAdjust="spacingAndGlyphs" fill="#000" >0.8</text>
<text x="378.70" y="225.85" font-size="8.31" text-anchor="end" textLength="12.96" lengthAdjust="spacingAndGlyphs" fill="#000" >0.9</text>
<text x="378.70" y="197.07" font-size="8.31" text-anchor="end" textLength="12.96" lengthAdjust="spacingAndGlyphs" fill="#000" >1.0</text>
<text y="178.10" font-size="8.70" ><tspan x="527.74">(</tspan><tspan x="531.48">d</tspan><tspan x="537.17">)</tspan></text>
<g transform="translate(360.20 251.15) rotate(-90)">
<text x="-55.46" y="0" font-size="8.31" textLength="91.69" lengthAdjust="spacingAndGlyphs">Persistence coefficient</text>
<text y="0.00" font-size="8.31" ><tspan x="39.19" font-style="italic">ϕ</tspan><tspan x="44.40">(</tspan><tspan x="48.27" font-style="italic">τ</tspan><tspan x="52.49">)</tspan></text>
</g>
</svg>
</body></html>
